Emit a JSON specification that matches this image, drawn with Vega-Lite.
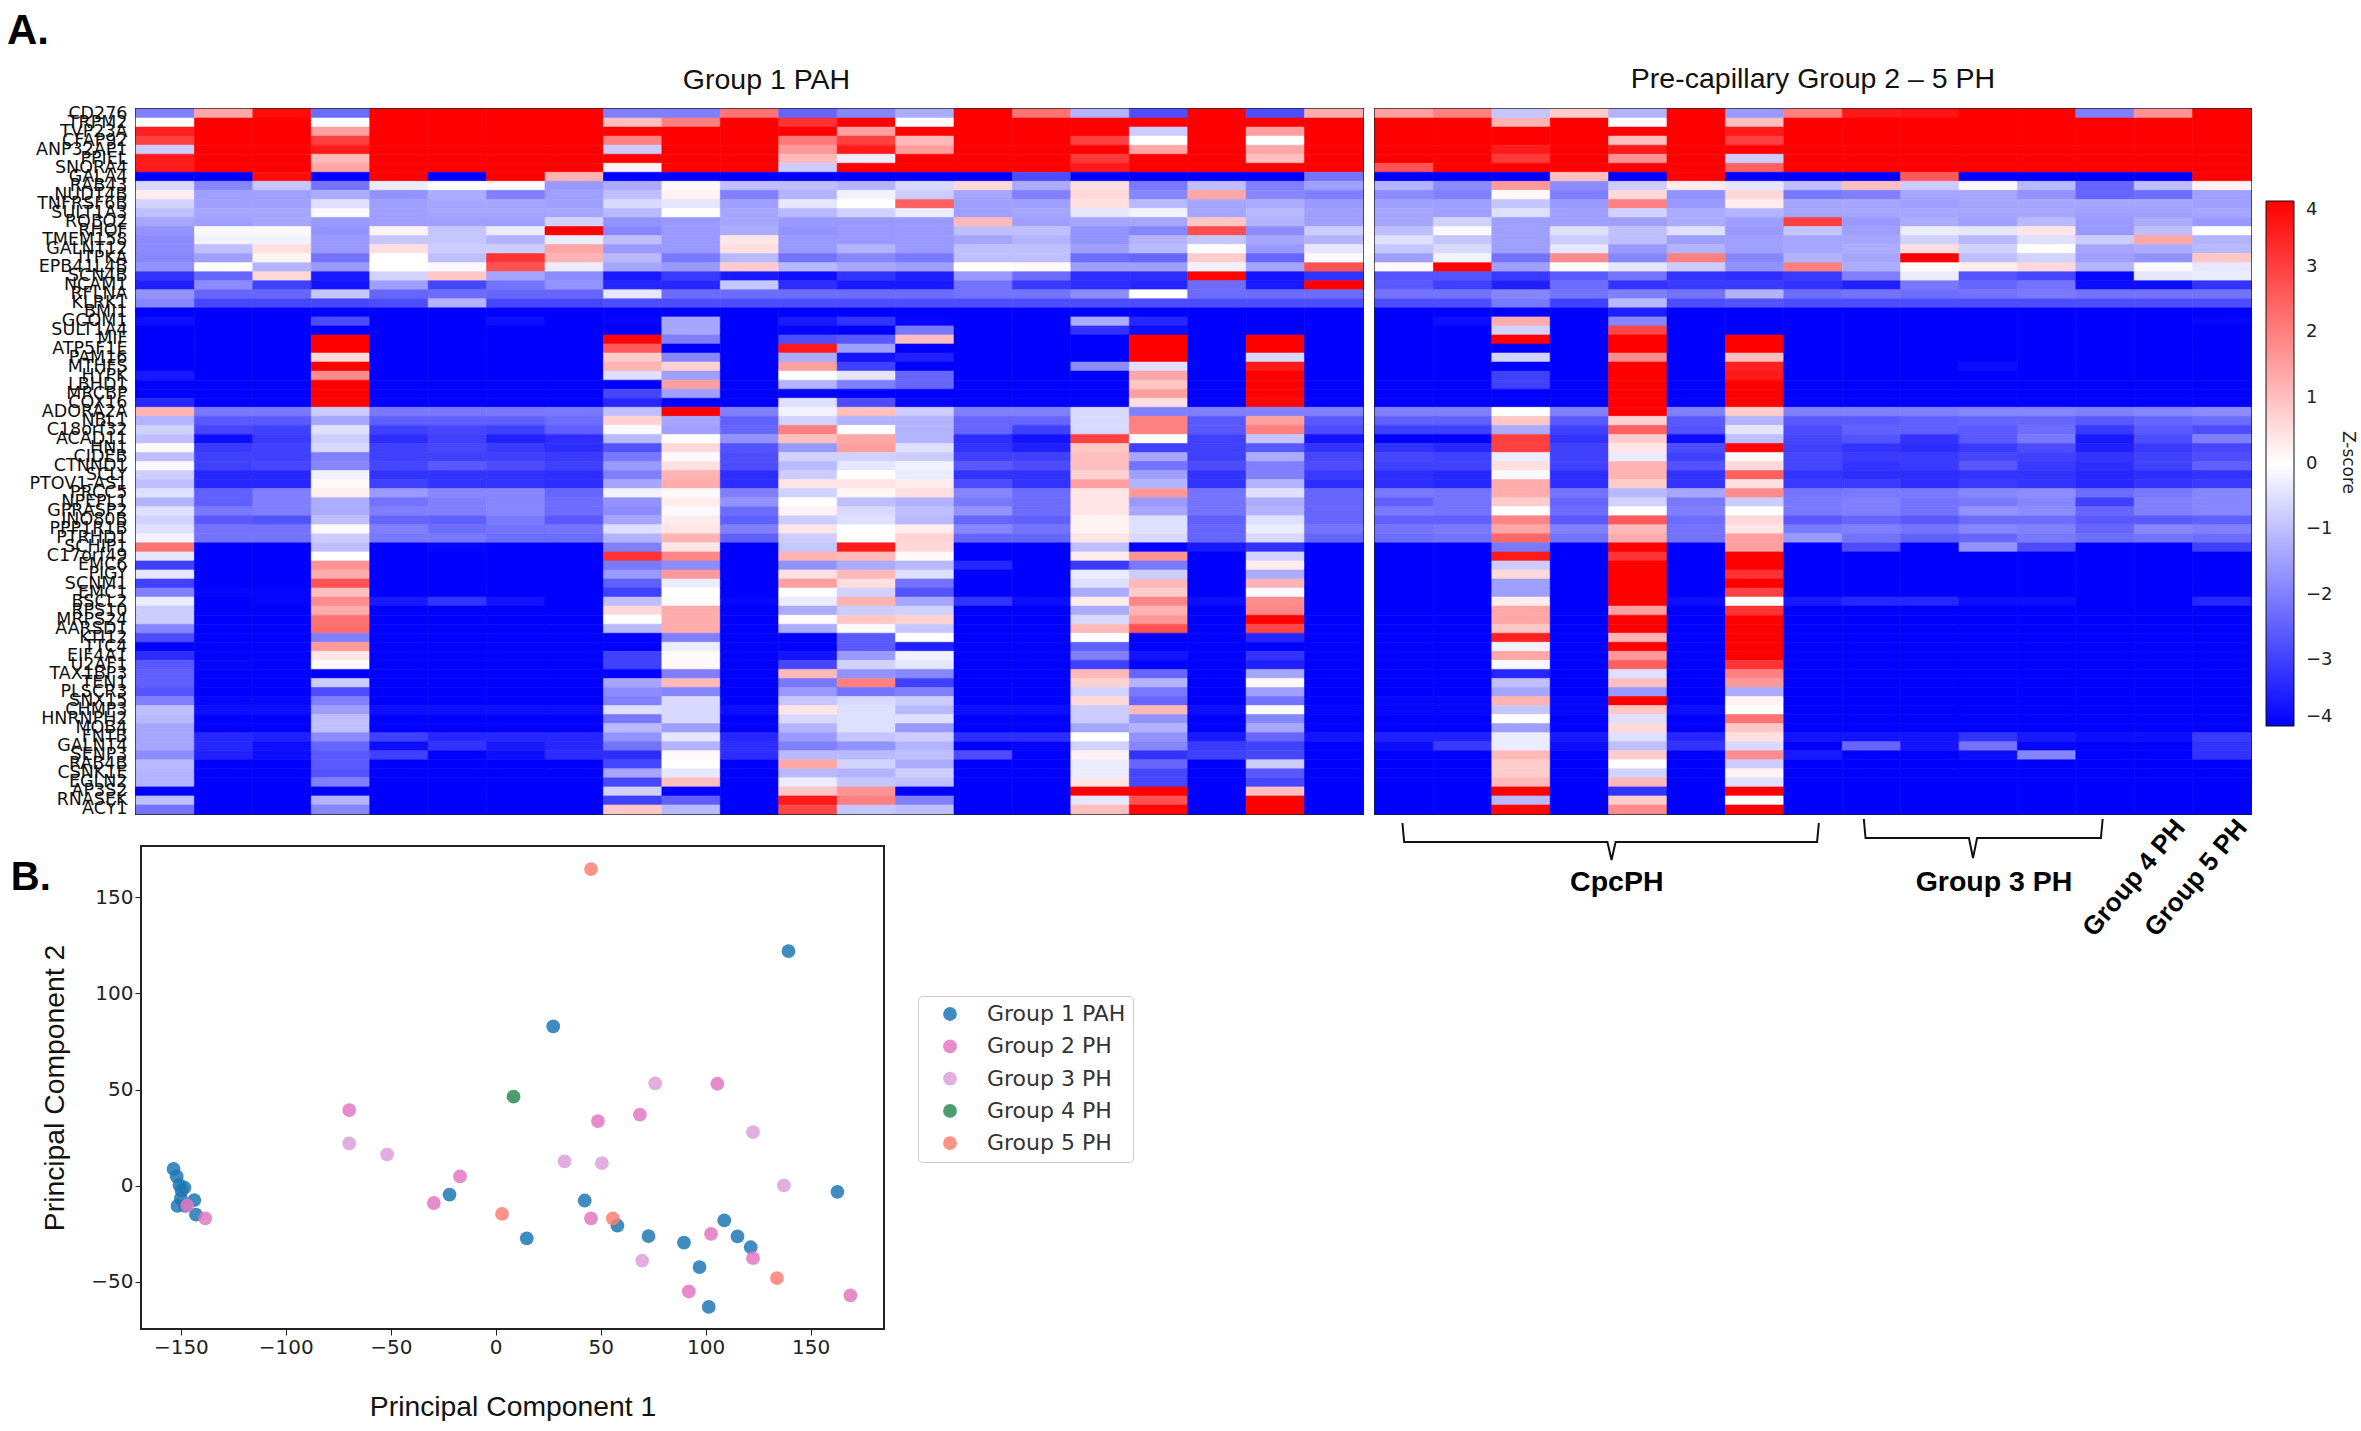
{"$schema":"https://vega.github.io/schema/vega-lite/v6.json","background":"white","padding":{"left":7,"top":9,"right":0,"bottom":0},"title":{"text":"A.","anchor":"start","frame":"group","font":"Liberation Sans","fontSize":42,"fontWeight":"bold","color":"black","offset":11.5,"dx":-129},"config":{"view":{"stroke":"#222","strokeWidth":2}},"datasets":{"left":[
{"r":1,"c":1,"z":-2},{"r":2,"c":1,"z":0},{"r":3,"c":1,"z":3.5},{"r":4,"c":1,"z":3},{"r":5,"c":1,"z":-0.8},{"r":6,"c":1,"z":3.6},{"r":7,"c":1,"z":3.6},{"r":8,"c":1,"z":-4},{"r":9,"c":1,"z":-0.6},{"r":10,"c":1,"z":0.3},{"r":11,"c":1,"z":-0.7},{"r":12,"c":1,"z":-1},{"r":13,"c":1,"z":-1.4},{"r":14,"c":1,"z":-1.7},{"r":15,"c":1,"z":-1.8},{"r":16,"c":1,"z":-1.8},{"r":17,"c":1,"z":-1.9},{"r":18,"c":1,"z":-1.7},{"r":19,"c":1,"z":-3.2},{"r":20,"c":1,"z":-3.5},{"r":21,"c":1,"z":-1.7},{"r":22,"c":1,"z":-1.9},{"r":23,"c":1,"z":-4},{"r":24,"c":1,"z":-3.8},{"r":25,"c":1,"z":-4},{"r":26,"c":1,"z":-4},{"r":27,"c":1,"z":-4},{"r":28,"c":1,"z":-4},{"r":29,"c":1,"z":-4},{"r":30,"c":1,"z":-3.6},{"r":31,"c":1,"z":-4},{"r":32,"c":1,"z":-4},{"r":33,"c":1,"z":-3.4},{"r":34,"c":1,"z":1.2},{"r":35,"c":1,"z":-1.2},{"r":36,"c":1,"z":-0.7},{"r":37,"c":1,"z":-1},{"r":38,"c":1,"z":0.1},{"r":39,"c":1,"z":-1},{"r":40,"c":1,"z":-0.1},{"r":41,"c":1,"z":-0.8},{"r":42,"c":1,"z":-1},{"r":43,"c":1,"z":-0.5},{"r":44,"c":1,"z":-1.2},{"r":45,"c":1,"z":-0.5},{"r":46,"c":1,"z":-0.7},{"r":47,"c":1,"z":-0.5},{"r":48,"c":1,"z":-0.2},{"r":49,"c":1,"z":2.2},{"r":50,"c":1,"z":-0.4},{"r":51,"c":1,"z":-3},{"r":52,"c":1,"z":-0.4},{"r":53,"c":1,"z":-3},{"r":54,"c":1,"z":-2},{"r":55,"c":1,"z":-0.3},{"r":56,"c":1,"z":-0.8},{"r":57,"c":1,"z":-0.8},{"r":58,"c":1,"z":-1.9},{"r":59,"c":1,"z":-2.8},{"r":60,"c":1,"z":-4},{"r":61,"c":1,"z":-3.3},{"r":62,"c":1,"z":-2.6},{"r":63,"c":1,"z":-2.5},{"r":64,"c":1,"z":-2.5},{"r":65,"c":1,"z":-2.7},{"r":66,"c":1,"z":-2},{"r":67,"c":1,"z":-1},{"r":68,"c":1,"z":-1.1},{"r":69,"c":1,"z":-1.4},{"r":70,"c":1,"z":-1.4},{"r":71,"c":1,"z":-1.4},{"r":72,"c":1,"z":-1.8},{"r":73,"c":1,"z":-1.1},{"r":74,"c":1,"z":-1.2},{"r":75,"c":1,"z":-1.2},{"r":76,"c":1,"z":-4},{"r":77,"c":1,"z":-1},{"r":78,"c":1,"z":-2.2},
{"r":1,"c":2,"z":1.4},{"r":2,"c":2,"z":4},{"r":3,"c":2,"z":4},{"r":4,"c":2,"z":4},{"r":5,"c":2,"z":4},{"r":6,"c":2,"z":4},{"r":7,"c":2,"z":4},{"r":8,"c":2,"z":-4},{"r":9,"c":2,"z":-1.9},{"r":10,"c":2,"z":-1.5},{"r":11,"c":2,"z":-1.5},{"r":12,"c":2,"z":-1.4},{"r":13,"c":2,"z":-1.5},{"r":14,"c":2,"z":-0.1},{"r":15,"c":2,"z":-0.2},{"r":16,"c":2,"z":-1},{"r":17,"c":2,"z":-1.5},{"r":18,"c":2,"z":0},{"r":19,"c":2,"z":-2.4},{"r":20,"c":2,"z":-1.8},{"r":21,"c":2,"z":-2.4},{"r":22,"c":2,"z":-2.9},{"r":23,"c":2,"z":-4},{"r":24,"c":2,"z":-4},{"r":25,"c":2,"z":-4},{"r":26,"c":2,"z":-4},{"r":27,"c":2,"z":-4},{"r":28,"c":2,"z":-4},{"r":29,"c":2,"z":-4},{"r":30,"c":2,"z":-4},{"r":31,"c":2,"z":-4},{"r":32,"c":2,"z":-4},{"r":33,"c":2,"z":-4},{"r":34,"c":2,"z":-2.1},{"r":35,"c":2,"z":-2.6},{"r":36,"c":2,"z":-2.9},{"r":37,"c":2,"z":-3.8},{"r":38,"c":2,"z":-3.1},{"r":39,"c":2,"z":-3},{"r":40,"c":2,"z":-3},{"r":41,"c":2,"z":-3.4},{"r":42,"c":2,"z":-3.4},{"r":43,"c":2,"z":-2.5},{"r":44,"c":2,"z":-2.5},{"r":45,"c":2,"z":-2.1},{"r":46,"c":2,"z":-2.6},{"r":47,"c":2,"z":-2.2},{"r":48,"c":2,"z":-2.2},{"r":49,"c":2,"z":-4},{"r":50,"c":2,"z":-4},{"r":51,"c":2,"z":-4},{"r":52,"c":2,"z":-4},{"r":53,"c":2,"z":-4},{"r":54,"c":2,"z":-3.9},{"r":55,"c":2,"z":-4},{"r":56,"c":2,"z":-4},{"r":57,"c":2,"z":-4},{"r":58,"c":2,"z":-4},{"r":59,"c":2,"z":-4},{"r":60,"c":2,"z":-4},{"r":61,"c":2,"z":-4},{"r":62,"c":2,"z":-3.9},{"r":63,"c":2,"z":-4},{"r":64,"c":2,"z":-4},{"r":65,"c":2,"z":-4},{"r":66,"c":2,"z":-3.9},{"r":67,"c":2,"z":-3.8},{"r":68,"c":2,"z":-4},{"r":69,"c":2,"z":-4},{"r":70,"c":2,"z":-3.4},{"r":71,"c":2,"z":-3.4},{"r":72,"c":2,"z":-3.5},{"r":73,"c":2,"z":-4},{"r":74,"c":2,"z":-4},{"r":75,"c":2,"z":-4},{"r":76,"c":2,"z":-4},{"r":77,"c":2,"z":-4},{"r":78,"c":2,"z":-4},
{"r":1,"c":3,"z":3.8},{"r":2,"c":3,"z":4},{"r":3,"c":3,"z":4},{"r":4,"c":3,"z":4},{"r":5,"c":3,"z":4},{"r":6,"c":3,"z":4},{"r":7,"c":3,"z":4},{"r":8,"c":3,"z":3.8},{"r":9,"c":3,"z":-0.9},{"r":10,"c":3,"z":-1.5},{"r":11,"c":3,"z":-1.5},{"r":12,"c":3,"z":-1.4},{"r":13,"c":3,"z":-1.4},{"r":14,"c":3,"z":-0.1},{"r":15,"c":3,"z":-0.2},{"r":16,"c":3,"z":0.5},{"r":17,"c":3,"z":0.15},{"r":18,"c":3,"z":-1.2},{"r":19,"c":3,"z":0.6},{"r":20,"c":3,"z":-3},{"r":21,"c":3,"z":-2.4},{"r":22,"c":3,"z":-2.9},{"r":23,"c":3,"z":-4},{"r":24,"c":3,"z":-4},{"r":25,"c":3,"z":-4},{"r":26,"c":3,"z":-4},{"r":27,"c":3,"z":-4},{"r":28,"c":3,"z":-4},{"r":29,"c":3,"z":-4},{"r":30,"c":3,"z":-4},{"r":31,"c":3,"z":-4},{"r":32,"c":3,"z":-4},{"r":33,"c":3,"z":-4},{"r":34,"c":3,"z":-2.1},{"r":35,"c":3,"z":-2.6},{"r":36,"c":3,"z":-3},{"r":37,"c":3,"z":-3.1},{"r":38,"c":3,"z":-3},{"r":39,"c":3,"z":-3},{"r":40,"c":3,"z":-2.9},{"r":41,"c":3,"z":-3.4},{"r":42,"c":3,"z":-3.4},{"r":43,"c":3,"z":-2},{"r":44,"c":3,"z":-2},{"r":45,"c":3,"z":-2},{"r":46,"c":3,"z":-2.7},{"r":47,"c":3,"z":-2.2},{"r":48,"c":3,"z":-2.2},{"r":49,"c":3,"z":-4},{"r":50,"c":3,"z":-4},{"r":51,"c":3,"z":-4},{"r":52,"c":3,"z":-4},{"r":53,"c":3,"z":-4},{"r":54,"c":3,"z":-3.9},{"r":55,"c":3,"z":-3.9},{"r":56,"c":3,"z":-4},{"r":57,"c":3,"z":-4},{"r":58,"c":3,"z":-4},{"r":59,"c":3,"z":-4},{"r":60,"c":3,"z":-4},{"r":61,"c":3,"z":-4},{"r":62,"c":3,"z":-4},{"r":63,"c":3,"z":-4},{"r":64,"c":3,"z":-4},{"r":65,"c":3,"z":-4},{"r":66,"c":3,"z":-3.9},{"r":67,"c":3,"z":-3.8},{"r":68,"c":3,"z":-4},{"r":69,"c":3,"z":-4},{"r":70,"c":3,"z":-3.5},{"r":71,"c":3,"z":-3.8},{"r":72,"c":3,"z":-3.8},{"r":73,"c":3,"z":-4},{"r":74,"c":3,"z":-4},{"r":75,"c":3,"z":-4},{"r":76,"c":3,"z":-4},{"r":77,"c":3,"z":-4},{"r":78,"c":3,"z":-4},
{"r":1,"c":4,"z":-2.3},{"r":2,"c":4,"z":0},{"r":3,"c":4,"z":1.5},{"r":4,"c":4,"z":3},{"r":5,"c":4,"z":3.6},{"r":6,"c":4,"z":1.1},{"r":7,"c":4,"z":1.4},{"r":8,"c":4,"z":-4},{"r":9,"c":4,"z":-2.2},{"r":10,"c":4,"z":-1.3},{"r":11,"c":4,"z":-0.5},{"r":12,"c":4,"z":-0.1},{"r":13,"c":4,"z":-1.6},{"r":14,"c":4,"z":-1.7},{"r":15,"c":4,"z":-1.6},{"r":16,"c":4,"z":-1.6},{"r":17,"c":4,"z":-2.2},{"r":18,"c":4,"z":-1.6},{"r":19,"c":4,"z":-3.6},{"r":20,"c":4,"z":-3.7},{"r":21,"c":4,"z":-0.9},{"r":22,"c":4,"z":-2.9},{"r":23,"c":4,"z":-4},{"r":24,"c":4,"z":-2.8},{"r":25,"c":4,"z":-4},{"r":26,"c":4,"z":4},{"r":27,"c":4,"z":4},{"r":28,"c":4,"z":0.6},{"r":29,"c":4,"z":4},{"r":30,"c":4,"z":1.8},{"r":31,"c":4,"z":4},{"r":32,"c":4,"z":4},{"r":33,"c":4,"z":4},{"r":34,"c":4,"z":-0.8},{"r":35,"c":4,"z":-1.4},{"r":36,"c":4,"z":-0.5},{"r":37,"c":4,"z":-0.8},{"r":38,"c":4,"z":-0.6},{"r":39,"c":4,"z":-2},{"r":40,"c":4,"z":-1.9},{"r":41,"c":4,"z":-0.2},{"r":42,"c":4,"z":0.1},{"r":43,"c":4,"z":0.25},{"r":44,"c":4,"z":-1.3},{"r":45,"c":4,"z":-1.3},{"r":46,"c":4,"z":-1},{"r":47,"c":4,"z":0.1},{"r":48,"c":4,"z":-0.8},{"r":49,"c":4,"z":-1},{"r":50,"c":4,"z":0},{"r":51,"c":4,"z":1.7},{"r":52,"c":4,"z":1.3},{"r":53,"c":4,"z":2.7},{"r":54,"c":4,"z":1},{"r":55,"c":4,"z":1.8},{"r":56,"c":4,"z":1.3},{"r":57,"c":4,"z":2.2},{"r":58,"c":4,"z":2.3},{"r":59,"c":4,"z":-2},{"r":60,"c":4,"z":1.6},{"r":61,"c":4,"z":0.4},{"r":62,"c":4,"z":0.1},{"r":63,"c":4,"z":-4},{"r":64,"c":4,"z":-0.8},{"r":65,"c":4,"z":-2.8},{"r":66,"c":4,"z":-2},{"r":67,"c":4,"z":-1.5},{"r":68,"c":4,"z":-1},{"r":69,"c":4,"z":-1},{"r":70,"c":4,"z":-1.8},{"r":71,"c":4,"z":-2.4},{"r":72,"c":4,"z":-2.6},{"r":73,"c":4,"z":-2.6},{"r":74,"c":4,"z":-2.7},{"r":75,"c":4,"z":-2},{"r":76,"c":4,"z":-4},{"r":77,"c":4,"z":-1.2},{"r":78,"c":4,"z":-1.9},
{"r":1,"c":5,"z":4},{"r":2,"c":5,"z":4},{"r":3,"c":5,"z":4},{"r":4,"c":5,"z":4},{"r":5,"c":5,"z":4},{"r":6,"c":5,"z":4},{"r":7,"c":5,"z":4},{"r":8,"c":5,"z":4},{"r":9,"c":5,"z":-0.3},{"r":10,"c":5,"z":-1.7},{"r":11,"c":5,"z":-1.5},{"r":12,"c":5,"z":-1.5},{"r":13,"c":5,"z":-1.5},{"r":14,"c":5,"z":0.2},{"r":15,"c":5,"z":-0.9},{"r":16,"c":5,"z":0.5},{"r":17,"c":5,"z":0},{"r":18,"c":5,"z":0},{"r":19,"c":5,"z":-0.7},{"r":20,"c":5,"z":-1.5},{"r":21,"c":5,"z":-2.4},{"r":22,"c":5,"z":-2.8},{"r":23,"c":5,"z":-4},{"r":24,"c":5,"z":-4},{"r":25,"c":5,"z":-4},{"r":26,"c":5,"z":-4},{"r":27,"c":5,"z":-4},{"r":28,"c":5,"z":-4},{"r":29,"c":5,"z":-4},{"r":30,"c":5,"z":-4},{"r":31,"c":5,"z":-4},{"r":32,"c":5,"z":-4},{"r":33,"c":5,"z":-4},{"r":34,"c":5,"z":-2.1},{"r":35,"c":5,"z":-2.5},{"r":36,"c":5,"z":-3},{"r":37,"c":5,"z":-3.3},{"r":38,"c":5,"z":-3},{"r":39,"c":5,"z":-3},{"r":40,"c":5,"z":-2.9},{"r":41,"c":5,"z":-3.2},{"r":42,"c":5,"z":-3},{"r":43,"c":5,"z":-1.6},{"r":44,"c":5,"z":-2.2},{"r":45,"c":5,"z":-2},{"r":46,"c":5,"z":-2.4},{"r":47,"c":5,"z":-2},{"r":48,"c":5,"z":-2.1},{"r":49,"c":5,"z":-4},{"r":50,"c":5,"z":-4},{"r":51,"c":5,"z":-4},{"r":52,"c":5,"z":-4},{"r":53,"c":5,"z":-4},{"r":54,"c":5,"z":-4},{"r":55,"c":5,"z":-3.6},{"r":56,"c":5,"z":-4},{"r":57,"c":5,"z":-4},{"r":58,"c":5,"z":-4},{"r":59,"c":5,"z":-4},{"r":60,"c":5,"z":-4},{"r":61,"c":5,"z":-4},{"r":62,"c":5,"z":-4},{"r":63,"c":5,"z":-4},{"r":64,"c":5,"z":-4},{"r":65,"c":5,"z":-4},{"r":66,"c":5,"z":-4},{"r":67,"c":5,"z":-3.8},{"r":68,"c":5,"z":-4},{"r":69,"c":5,"z":-4},{"r":70,"c":5,"z":-3},{"r":71,"c":5,"z":-3.8},{"r":72,"c":5,"z":-3},{"r":73,"c":5,"z":-4},{"r":74,"c":5,"z":-4},{"r":75,"c":5,"z":-4},{"r":76,"c":5,"z":-4},{"r":77,"c":5,"z":-4},{"r":78,"c":5,"z":-4},
{"r":1,"c":6,"z":4},{"r":2,"c":6,"z":4},{"r":3,"c":6,"z":4},{"r":4,"c":6,"z":4},{"r":5,"c":6,"z":4},{"r":6,"c":6,"z":4},{"r":7,"c":6,"z":4},{"r":8,"c":6,"z":-4},{"r":9,"c":6,"z":0},{"r":10,"c":6,"z":-1.3},{"r":11,"c":6,"z":-1.4},{"r":12,"c":6,"z":-1.4},{"r":13,"c":6,"z":-1.5},{"r":14,"c":6,"z":-0.9},{"r":15,"c":6,"z":-0.9},{"r":16,"c":6,"z":-0.8},{"r":17,"c":6,"z":-1},{"r":18,"c":6,"z":-0.1},{"r":19,"c":6,"z":0.9},{"r":20,"c":6,"z":-2.9},{"r":21,"c":6,"z":-2.3},{"r":22,"c":6,"z":-1.2},{"r":23,"c":6,"z":-4},{"r":24,"c":6,"z":-4},{"r":25,"c":6,"z":-4},{"r":26,"c":6,"z":-4},{"r":27,"c":6,"z":-4},{"r":28,"c":6,"z":-4},{"r":29,"c":6,"z":-4},{"r":30,"c":6,"z":-4},{"r":31,"c":6,"z":-4},{"r":32,"c":6,"z":-4},{"r":33,"c":6,"z":-4},{"r":34,"c":6,"z":-2.1},{"r":35,"c":6,"z":-2.5},{"r":36,"c":6,"z":-2.9},{"r":37,"c":6,"z":-3},{"r":38,"c":6,"z":-2.9},{"r":39,"c":6,"z":-3},{"r":40,"c":6,"z":-2.6},{"r":41,"c":6,"z":-3.2},{"r":42,"c":6,"z":-3.2},{"r":43,"c":6,"z":-1.9},{"r":44,"c":6,"z":-2},{"r":45,"c":6,"z":-2},{"r":46,"c":6,"z":-2.5},{"r":47,"c":6,"z":-2.3},{"r":48,"c":6,"z":-2.1},{"r":49,"c":6,"z":-3.9},{"r":50,"c":6,"z":-4},{"r":51,"c":6,"z":-4},{"r":52,"c":6,"z":-4},{"r":53,"c":6,"z":-4},{"r":54,"c":6,"z":-4},{"r":55,"c":6,"z":-3.2},{"r":56,"c":6,"z":-4},{"r":57,"c":6,"z":-4},{"r":58,"c":6,"z":-4},{"r":59,"c":6,"z":-4},{"r":60,"c":6,"z":-4},{"r":61,"c":6,"z":-4},{"r":62,"c":6,"z":-4},{"r":63,"c":6,"z":-4},{"r":64,"c":6,"z":-4},{"r":65,"c":6,"z":-4},{"r":66,"c":6,"z":-4},{"r":67,"c":6,"z":-3.8},{"r":68,"c":6,"z":-4},{"r":69,"c":6,"z":-4},{"r":70,"c":6,"z":-3.4},{"r":71,"c":6,"z":-3.2},{"r":72,"c":6,"z":-4},{"r":73,"c":6,"z":-4},{"r":74,"c":6,"z":-4},{"r":75,"c":6,"z":-4},{"r":76,"c":6,"z":-4},{"r":77,"c":6,"z":-4},{"r":78,"c":6,"z":-4},
{"r":1,"c":7,"z":4},{"r":2,"c":7,"z":4},{"r":3,"c":7,"z":4},{"r":4,"c":7,"z":4},{"r":5,"c":7,"z":4},{"r":6,"c":7,"z":4},{"r":7,"c":7,"z":4},{"r":8,"c":7,"z":4},{"r":9,"c":7,"z":-0.1},{"r":10,"c":7,"z":-2},{"r":11,"c":7,"z":-1.4},{"r":12,"c":7,"z":-1.4},{"r":13,"c":7,"z":-1.5},{"r":14,"c":7,"z":-0.3},{"r":15,"c":7,"z":-1.2},{"r":16,"c":7,"z":-0.8},{"r":17,"c":7,"z":3.2},{"r":18,"c":7,"z":2.7},{"r":19,"c":7,"z":-1.4},{"r":20,"c":7,"z":-2.2},{"r":21,"c":7,"z":-2.4},{"r":22,"c":7,"z":-2.9},{"r":23,"c":7,"z":-4},{"r":24,"c":7,"z":-3.8},{"r":25,"c":7,"z":-4},{"r":26,"c":7,"z":-4},{"r":27,"c":7,"z":-4},{"r":28,"c":7,"z":-4},{"r":29,"c":7,"z":-4},{"r":30,"c":7,"z":-4},{"r":31,"c":7,"z":-4},{"r":32,"c":7,"z":-4},{"r":33,"c":7,"z":-4},{"r":34,"c":7,"z":-2.1},{"r":35,"c":7,"z":-2.5},{"r":36,"c":7,"z":-3},{"r":37,"c":7,"z":-3.5},{"r":38,"c":7,"z":-3.1},{"r":39,"c":7,"z":-3},{"r":40,"c":7,"z":-2.8},{"r":41,"c":7,"z":-3.2},{"r":42,"c":7,"z":-3.2},{"r":43,"c":7,"z":-1.9},{"r":44,"c":7,"z":-1.9},{"r":45,"c":7,"z":-1.9},{"r":46,"c":7,"z":-2.1},{"r":47,"c":7,"z":-2.2},{"r":48,"c":7,"z":-2.3},{"r":49,"c":7,"z":-4},{"r":50,"c":7,"z":-4},{"r":51,"c":7,"z":-4},{"r":52,"c":7,"z":-4},{"r":53,"c":7,"z":-4},{"r":54,"c":7,"z":-4},{"r":55,"c":7,"z":-3.7},{"r":56,"c":7,"z":-4},{"r":57,"c":7,"z":-4},{"r":58,"c":7,"z":-4},{"r":59,"c":7,"z":-4},{"r":60,"c":7,"z":-4},{"r":61,"c":7,"z":-4},{"r":62,"c":7,"z":-4},{"r":63,"c":7,"z":-4},{"r":64,"c":7,"z":-4},{"r":65,"c":7,"z":-4},{"r":66,"c":7,"z":-4},{"r":67,"c":7,"z":-3.8},{"r":68,"c":7,"z":-4},{"r":69,"c":7,"z":-4},{"r":70,"c":7,"z":-3.4},{"r":71,"c":7,"z":-3.6},{"r":72,"c":7,"z":-3.8},{"r":73,"c":7,"z":-4},{"r":74,"c":7,"z":-4},{"r":75,"c":7,"z":-4},{"r":76,"c":7,"z":-4},{"r":77,"c":7,"z":-4},{"r":78,"c":7,"z":-4},
{"r":1,"c":8,"z":4},{"r":2,"c":8,"z":4},{"r":3,"c":8,"z":4},{"r":4,"c":8,"z":4},{"r":5,"c":8,"z":4},{"r":6,"c":8,"z":4},{"r":7,"c":8,"z":4},{"r":8,"c":8,"z":1.2},{"r":9,"c":8,"z":-1.6},{"r":10,"c":8,"z":-1.5},{"r":11,"c":8,"z":-1.5},{"r":12,"c":8,"z":-1.4},{"r":13,"c":8,"z":-0.7},{"r":14,"c":8,"z":4},{"r":15,"c":8,"z":-0.3},{"r":16,"c":8,"z":1.4},{"r":17,"c":8,"z":1.2},{"r":18,"c":8,"z":-0.3},{"r":19,"c":8,"z":-1.8},{"r":20,"c":8,"z":-1.7},{"r":21,"c":8,"z":-2.4},{"r":22,"c":8,"z":-2.9},{"r":23,"c":8,"z":-4},{"r":24,"c":8,"z":-4},{"r":25,"c":8,"z":-4},{"r":26,"c":8,"z":-4},{"r":27,"c":8,"z":-4},{"r":28,"c":8,"z":-4},{"r":29,"c":8,"z":-4},{"r":30,"c":8,"z":-4},{"r":31,"c":8,"z":-4},{"r":32,"c":8,"z":-4},{"r":33,"c":8,"z":-4},{"r":34,"c":8,"z":-2.1},{"r":35,"c":8,"z":-2.3},{"r":36,"c":8,"z":-2.5},{"r":37,"c":8,"z":-3.3},{"r":38,"c":8,"z":-3.3},{"r":39,"c":8,"z":-3.1},{"r":40,"c":8,"z":-3},{"r":41,"c":8,"z":-3.3},{"r":42,"c":8,"z":-3.3},{"r":43,"c":8,"z":-2.4},{"r":44,"c":8,"z":-2.3},{"r":45,"c":8,"z":-2.3},{"r":46,"c":8,"z":-2.6},{"r":47,"c":8,"z":-2.2},{"r":48,"c":8,"z":-2.3},{"r":49,"c":8,"z":-4},{"r":50,"c":8,"z":-4},{"r":51,"c":8,"z":-4},{"r":52,"c":8,"z":-4},{"r":53,"c":8,"z":-4},{"r":54,"c":8,"z":-4},{"r":55,"c":8,"z":-4},{"r":56,"c":8,"z":-4},{"r":57,"c":8,"z":-4},{"r":58,"c":8,"z":-4},{"r":59,"c":8,"z":-4},{"r":60,"c":8,"z":-4},{"r":61,"c":8,"z":-4},{"r":62,"c":8,"z":-4},{"r":63,"c":8,"z":-4},{"r":64,"c":8,"z":-4},{"r":65,"c":8,"z":-4},{"r":66,"c":8,"z":-4},{"r":67,"c":8,"z":-3.8},{"r":68,"c":8,"z":-4},{"r":69,"c":8,"z":-4},{"r":70,"c":8,"z":-3.4},{"r":71,"c":8,"z":-3.4},{"r":72,"c":8,"z":-3.3},{"r":73,"c":8,"z":-4},{"r":74,"c":8,"z":-4},{"r":75,"c":8,"z":-4},{"r":76,"c":8,"z":-4},{"r":77,"c":8,"z":-4},{"r":78,"c":8,"z":-4},
{"r":1,"c":9,"z":-2},{"r":2,"c":9,"z":1},{"r":3,"c":9,"z":4},{"r":4,"c":9,"z":2},{"r":5,"c":9,"z":-0.8},{"r":6,"c":9,"z":4},{"r":7,"c":9,"z":0.2},{"r":8,"c":9,"z":-4},{"r":9,"c":9,"z":-1.3},{"r":10,"c":9,"z":-1},{"r":11,"c":9,"z":-0.6},{"r":12,"c":9,"z":-1.1},{"r":13,"c":9,"z":-1.7},{"r":14,"c":9,"z":-1.9},{"r":15,"c":9,"z":-1},{"r":16,"c":9,"z":-1.6},{"r":17,"c":9,"z":-1.1},{"r":18,"c":9,"z":-1.4},{"r":19,"c":9,"z":-3.6},{"r":20,"c":9,"z":-3.4},{"r":21,"c":9,"z":-0.4},{"r":22,"c":9,"z":-2.8},{"r":23,"c":9,"z":-4},{"r":24,"c":9,"z":-3.9},{"r":25,"c":9,"z":-4},{"r":26,"c":9,"z":3.9},{"r":27,"c":9,"z":2.6},{"r":28,"c":9,"z":0.8},{"r":29,"c":9,"z":1.2},{"r":30,"c":9,"z":-0.5},{"r":31,"c":9,"z":-4},{"r":32,"c":9,"z":-2.9},{"r":33,"c":9,"z":-3.4},{"r":34,"c":9,"z":-1},{"r":35,"c":9,"z":0.7},{"r":36,"c":9,"z":-0.1},{"r":37,"c":9,"z":-1.1},{"r":38,"c":9,"z":-2.7},{"r":39,"c":9,"z":-2.1},{"r":40,"c":9,"z":-1.6},{"r":41,"c":9,"z":-2},{"r":42,"c":9,"z":-1.4},{"r":43,"c":9,"z":-0.2},{"r":44,"c":9,"z":-1.7},{"r":45,"c":9,"z":-1.8},{"r":46,"c":9,"z":-1.4},{"r":47,"c":9,"z":-0.5},{"r":48,"c":9,"z":-1.2},{"r":49,"c":9,"z":-2},{"r":50,"c":9,"z":3.2},{"r":51,"c":9,"z":-2.1},{"r":52,"c":9,"z":-1.6},{"r":53,"c":9,"z":-2.5},{"r":54,"c":9,"z":-3},{"r":55,"c":9,"z":-1},{"r":56,"c":9,"z":0.6},{"r":57,"c":9,"z":0},{"r":58,"c":9,"z":-1.1},{"r":59,"c":9,"z":-4},{"r":60,"c":9,"z":-4},{"r":61,"c":9,"z":-3},{"r":62,"c":9,"z":-3},{"r":63,"c":9,"z":-4},{"r":64,"c":9,"z":-1.4},{"r":65,"c":9,"z":-1.8},{"r":66,"c":9,"z":-2},{"r":67,"c":9,"z":-0.5},{"r":68,"c":9,"z":-2.1},{"r":69,"c":9,"z":-1.1},{"r":70,"c":9,"z":-1.7},{"r":71,"c":9,"z":-2.2},{"r":72,"c":9,"z":-3.3},{"r":73,"c":9,"z":-2.9},{"r":74,"c":9,"z":-1.4},{"r":75,"c":9,"z":-2.9},{"r":76,"c":9,"z":-0.7},{"r":77,"c":9,"z":-3},{"r":78,"c":9,"z":0.9},
{"r":1,"c":10,"z":-2},{"r":2,"c":10,"z":2},{"r":3,"c":10,"z":4},{"r":4,"c":10,"z":4},{"r":5,"c":10,"z":4},{"r":6,"c":10,"z":4},{"r":7,"c":10,"z":4},{"r":8,"c":10,"z":-4},{"r":9,"c":10,"z":0.1},{"r":10,"c":10,"z":0.2},{"r":11,"c":10,"z":-0.4},{"r":12,"c":10,"z":0},{"r":13,"c":10,"z":-1.6},{"r":14,"c":10,"z":-1.6},{"r":15,"c":10,"z":-1.6},{"r":16,"c":10,"z":-1.6},{"r":17,"c":10,"z":-2.1},{"r":18,"c":10,"z":-1.6},{"r":19,"c":10,"z":-3.1},{"r":20,"c":10,"z":-3.4},{"r":21,"c":10,"z":-2.3},{"r":22,"c":10,"z":-2.8},{"r":23,"c":10,"z":-4},{"r":24,"c":10,"z":-1.4},{"r":25,"c":10,"z":-1.4},{"r":26,"c":10,"z":-2},{"r":27,"c":10,"z":-4},{"r":28,"c":10,"z":-1.9},{"r":29,"c":10,"z":0.7},{"r":30,"c":10,"z":-1.5},{"r":31,"c":10,"z":1.5},{"r":32,"c":10,"z":-1.5},{"r":33,"c":10,"z":-4},{"r":34,"c":10,"z":4},{"r":35,"c":10,"z":-1.4},{"r":36,"c":10,"z":-1.5},{"r":37,"c":10,"z":0.05},{"r":38,"c":10,"z":0.6},{"r":39,"c":10,"z":-0.1},{"r":40,"c":10,"z":0.5},{"r":41,"c":10,"z":1.2},{"r":42,"c":10,"z":1.3},{"r":43,"c":10,"z":0.1},{"r":44,"c":10,"z":0.3},{"r":45,"c":10,"z":-0.1},{"r":46,"c":10,"z":0.3},{"r":47,"c":10,"z":0.4},{"r":48,"c":10,"z":1.2},{"r":49,"c":10,"z":0.4},{"r":50,"c":10,"z":1.9},{"r":51,"c":10,"z":-1.8},{"r":52,"c":10,"z":1.6},{"r":53,"c":10,"z":-0.3},{"r":54,"c":10,"z":0},{"r":55,"c":10,"z":0.1},{"r":56,"c":10,"z":1.3},{"r":57,"c":10,"z":1.3},{"r":58,"c":10,"z":1.3},{"r":59,"c":10,"z":-2},{"r":60,"c":10,"z":-0.3},{"r":61,"c":10,"z":0.1},{"r":62,"c":10,"z":0.1},{"r":63,"c":10,"z":-2},{"r":64,"c":10,"z":1.1},{"r":65,"c":10,"z":-1.9},{"r":66,"c":10,"z":-0.6},{"r":67,"c":10,"z":-0.6},{"r":68,"c":10,"z":-0.6},{"r":69,"c":10,"z":-1.5},{"r":70,"c":10,"z":-0.4},{"r":71,"c":10,"z":-1.2},{"r":72,"c":10,"z":0.1},{"r":73,"c":10,"z":0},{"r":74,"c":10,"z":-0.4},{"r":75,"c":10,"z":1},{"r":76,"c":10,"z":-4},{"r":77,"c":10,"z":-2.5},{"r":78,"c":10,"z":-1.1},
{"r":1,"c":11,"z":2.2},{"r":2,"c":11,"z":4},{"r":3,"c":11,"z":4},{"r":4,"c":11,"z":4},{"r":5,"c":11,"z":4},{"r":6,"c":11,"z":4},{"r":7,"c":11,"z":4},{"r":8,"c":11,"z":-4},{"r":9,"c":11,"z":-1},{"r":10,"c":11,"z":-2},{"r":11,"c":11,"z":-1.5},{"r":12,"c":11,"z":-1.4},{"r":13,"c":11,"z":-1.4},{"r":14,"c":11,"z":-1.3},{"r":15,"c":11,"z":0.4},{"r":16,"c":11,"z":0.5},{"r":17,"c":11,"z":-1.1},{"r":18,"c":11,"z":0.8},{"r":19,"c":11,"z":-3.6},{"r":20,"c":11,"z":-0.9},{"r":21,"c":11,"z":-2.3},{"r":22,"c":11,"z":-2.8},{"r":23,"c":11,"z":-4},{"r":24,"c":11,"z":-4},{"r":25,"c":11,"z":-4},{"r":26,"c":11,"z":-4},{"r":27,"c":11,"z":-4},{"r":28,"c":11,"z":-4},{"r":29,"c":11,"z":-4},{"r":30,"c":11,"z":-4},{"r":31,"c":11,"z":-4},{"r":32,"c":11,"z":-4},{"r":33,"c":11,"z":-4},{"r":34,"c":11,"z":-2},{"r":35,"c":11,"z":-2.5},{"r":36,"c":11,"z":-2.4},{"r":37,"c":11,"z":-1.7},{"r":38,"c":11,"z":-2.7},{"r":39,"c":11,"z":-2.8},{"r":40,"c":11,"z":-2.8},{"r":41,"c":11,"z":-3.3},{"r":42,"c":11,"z":-3.3},{"r":43,"c":11,"z":-2},{"r":44,"c":11,"z":-1.7},{"r":45,"c":11,"z":-2.3},{"r":46,"c":11,"z":-2.5},{"r":47,"c":11,"z":-2},{"r":48,"c":11,"z":-2.5},{"r":49,"c":11,"z":-4},{"r":50,"c":11,"z":-4},{"r":51,"c":11,"z":-4},{"r":52,"c":11,"z":-4},{"r":53,"c":11,"z":-4},{"r":54,"c":11,"z":-4},{"r":55,"c":11,"z":-3.9},{"r":56,"c":11,"z":-4},{"r":57,"c":11,"z":-4},{"r":58,"c":11,"z":-4},{"r":59,"c":11,"z":-4},{"r":60,"c":11,"z":-4},{"r":61,"c":11,"z":-4},{"r":62,"c":11,"z":-4},{"r":63,"c":11,"z":-4},{"r":64,"c":11,"z":-4},{"r":65,"c":11,"z":-4},{"r":66,"c":11,"z":-4},{"r":67,"c":11,"z":-3.8},{"r":68,"c":11,"z":-4},{"r":69,"c":11,"z":-4},{"r":70,"c":11,"z":-3.4},{"r":71,"c":11,"z":-3.3},{"r":72,"c":11,"z":-3.3},{"r":73,"c":11,"z":-4},{"r":74,"c":11,"z":-4},{"r":75,"c":11,"z":-4},{"r":76,"c":11,"z":-4},{"r":77,"c":11,"z":-4},{"r":78,"c":11,"z":-4},
{"r":1,"c":12,"z":-2.4},{"r":2,"c":12,"z":3.2},{"r":3,"c":12,"z":4},{"r":4,"c":12,"z":2.1},{"r":5,"c":12,"z":1.6},{"r":6,"c":12,"z":1.1},{"r":7,"c":12,"z":-0.8},{"r":8,"c":12,"z":-4},{"r":9,"c":12,"z":-1},{"r":10,"c":12,"z":-1.2},{"r":11,"c":12,"z":-0.4},{"r":12,"c":12,"z":-1.1},{"r":13,"c":12,"z":-1.6},{"r":14,"c":12,"z":-1.7},{"r":15,"c":12,"z":-1.6},{"r":16,"c":12,"z":-1.6},{"r":17,"c":12,"z":-2.2},{"r":18,"c":12,"z":-1.1},{"r":19,"c":12,"z":-3.8},{"r":20,"c":12,"z":-3.3},{"r":21,"c":12,"z":-2.3},{"r":22,"c":12,"z":-2.8},{"r":23,"c":12,"z":-4},{"r":24,"c":12,"z":-3.6},{"r":25,"c":12,"z":-3.9},{"r":26,"c":12,"z":-2.8},{"r":27,"c":12,"z":3.6},{"r":28,"c":12,"z":-1.3},{"r":29,"c":12,"z":1.5},{"r":30,"c":12,"z":0},{"r":31,"c":12,"z":-1.2},{"r":32,"c":12,"z":-3.9},{"r":33,"c":12,"z":-0.5},{"r":34,"c":12,"z":-0.2},{"r":35,"c":12,"z":-0.7},{"r":36,"c":12,"z":2},{"r":37,"c":12,"z":1},{"r":38,"c":12,"z":-1.6},{"r":39,"c":12,"z":-0.7},{"r":40,"c":12,"z":-1.1},{"r":41,"c":12,"z":-0.8},{"r":42,"c":12,"z":0.4},{"r":43,"c":12,"z":-0.7},{"r":44,"c":12,"z":0},{"r":45,"c":12,"z":0.2},{"r":46,"c":12,"z":-0.8},{"r":47,"c":12,"z":0.4},{"r":48,"c":12,"z":-0.8},{"r":49,"c":12,"z":-0.9},{"r":50,"c":12,"z":1.2},{"r":51,"c":12,"z":-1.7},{"r":52,"c":12,"z":0.5},{"r":53,"c":12,"z":1.5},{"r":54,"c":12,"z":0},{"r":55,"c":12,"z":-0.3},{"r":56,"c":12,"z":-1.3},{"r":57,"c":12,"z":0.05},{"r":58,"c":12,"z":-1.3},{"r":59,"c":12,"z":-4},{"r":60,"c":12,"z":-4},{"r":61,"c":12,"z":-3.7},{"r":62,"c":12,"z":-2.9},{"r":63,"c":12,"z":1.1},{"r":64,"c":12,"z":-2.1},{"r":65,"c":12,"z":-1.6},{"r":66,"c":12,"z":-0.9},{"r":67,"c":12,"z":0.4},{"r":68,"c":12,"z":-0.6},{"r":69,"c":12,"z":-1.2},{"r":70,"c":12,"z":-1.6},{"r":71,"c":12,"z":-2},{"r":72,"c":12,"z":-1.1},{"r":73,"c":12,"z":1.4},{"r":74,"c":12,"z":-1.1},{"r":75,"c":12,"z":-0.3},{"r":76,"c":12,"z":0.9},{"r":77,"c":12,"z":3.6},{"r":78,"c":12,"z":2.9},
{"r":1,"c":13,"z":-1.9},{"r":2,"c":13,"z":4},{"r":3,"c":13,"z":1.5},{"r":4,"c":13,"z":3},{"r":5,"c":13,"z":3.6},{"r":6,"c":13,"z":-0.3},{"r":7,"c":13,"z":4},{"r":8,"c":13,"z":-4},{"r":9,"c":13,"z":-1.2},{"r":10,"c":13,"z":-0.2},{"r":11,"c":13,"z":0},{"r":12,"c":13,"z":-0.7},{"r":13,"c":13,"z":-1.6},{"r":14,"c":13,"z":-1.6},{"r":15,"c":13,"z":-1.6},{"r":16,"c":13,"z":-1.2},{"r":17,"c":13,"z":-1.9},{"r":18,"c":13,"z":-1.4},{"r":19,"c":13,"z":-3.2},{"r":20,"c":13,"z":-3.6},{"r":21,"c":13,"z":-2.3},{"r":22,"c":13,"z":-2.8},{"r":23,"c":13,"z":-4},{"r":24,"c":13,"z":-3.2},{"r":25,"c":13,"z":-4},{"r":26,"c":13,"z":-2.6},{"r":27,"c":13,"z":-1.5},{"r":28,"c":13,"z":-3.7},{"r":29,"c":13,"z":-3},{"r":30,"c":13,"z":-0.4},{"r":31,"c":13,"z":-2},{"r":32,"c":13,"z":-4},{"r":33,"c":13,"z":-2.8},{"r":34,"c":13,"z":1},{"r":35,"c":13,"z":-1.2},{"r":36,"c":13,"z":0},{"r":37,"c":13,"z":1.4},{"r":38,"c":13,"z":1.5},{"r":39,"c":13,"z":-0.7},{"r":40,"c":13,"z":-0.4},{"r":41,"c":13,"z":0},{"r":42,"c":13,"z":0.4},{"r":43,"c":13,"z":0.15},{"r":44,"c":13,"z":-1},{"r":45,"c":13,"z":-0.6},{"r":46,"c":13,"z":-0.5},{"r":47,"c":13,"z":0},{"r":48,"c":13,"z":0},{"r":49,"c":13,"z":3.6},{"r":50,"c":13,"z":1.1},{"r":51,"c":13,"z":-1.3},{"r":52,"c":13,"z":1.1},{"r":53,"c":13,"z":0.5},{"r":54,"c":13,"z":-0.7},{"r":55,"c":13,"z":1.2},{"r":56,"c":13,"z":-0.8},{"r":57,"c":13,"z":0.9},{"r":58,"c":13,"z":-0.1},{"r":59,"c":13,"z":-2.6},{"r":60,"c":13,"z":-2.6},{"r":61,"c":13,"z":-1.6},{"r":62,"c":13,"z":-0.7},{"r":63,"c":13,"z":-1.7},{"r":64,"c":13,"z":2},{"r":65,"c":13,"z":-2.2},{"r":66,"c":13,"z":-0.6},{"r":67,"c":13,"z":-0.5},{"r":68,"c":13,"z":-0.5},{"r":69,"c":13,"z":-0.5},{"r":70,"c":13,"z":-0.9},{"r":71,"c":13,"z":-1.7},{"r":72,"c":13,"z":-1.1},{"r":73,"c":13,"z":-0.7},{"r":74,"c":13,"z":-1.2},{"r":75,"c":13,"z":-0.9},{"r":76,"c":13,"z":1.7},{"r":77,"c":13,"z":2},{"r":78,"c":13,"z":-0.9},
{"r":1,"c":14,"z":-1.3},{"r":2,"c":14,"z":0},{"r":3,"c":14,"z":4},{"r":4,"c":14,"z":1.1},{"r":5,"c":14,"z":1.5},{"r":6,"c":14,"z":4},{"r":7,"c":14,"z":4},{"r":8,"c":14,"z":-4},{"r":9,"c":14,"z":-0.6},{"r":10,"c":14,"z":-0.8},{"r":11,"c":14,"z":2.5},{"r":12,"c":14,"z":-0.3},{"r":13,"c":14,"z":-1.6},{"r":14,"c":14,"z":-1.6},{"r":15,"c":14,"z":-1.6},{"r":16,"c":14,"z":-1.6},{"r":17,"c":14,"z":-2.1},{"r":18,"c":14,"z":-1.5},{"r":19,"c":14,"z":-3.5},{"r":20,"c":14,"z":-3.6},{"r":21,"c":14,"z":-2.3},{"r":22,"c":14,"z":-2.8},{"r":23,"c":14,"z":-4},{"r":24,"c":14,"z":-3.9},{"r":25,"c":14,"z":-2.1},{"r":26,"c":14,"z":1},{"r":27,"c":14,"z":-4},{"r":28,"c":14,"z":-3.5},{"r":29,"c":14,"z":-4},{"r":30,"c":14,"z":-2.4},{"r":31,"c":14,"z":-2.4},{"r":32,"c":14,"z":-4},{"r":33,"c":14,"z":-3.9},{"r":34,"c":14,"z":-0.8},{"r":35,"c":14,"z":-1.2},{"r":36,"c":14,"z":-1.2},{"r":37,"c":14,"z":-1.2},{"r":38,"c":14,"z":-0.5},{"r":39,"c":14,"z":-0.8},{"r":40,"c":14,"z":-0.2},{"r":41,"c":14,"z":-0.3},{"r":42,"c":14,"z":0.3},{"r":43,"c":14,"z":0.5},{"r":44,"c":14,"z":-1.2},{"r":45,"c":14,"z":-1},{"r":46,"c":14,"z":-1.1},{"r":47,"c":14,"z":0.3},{"r":48,"c":14,"z":0.7},{"r":49,"c":14,"z":0.6},{"r":50,"c":14,"z":0.1},{"r":51,"c":14,"z":-1.1},{"r":52,"c":14,"z":-0.5},{"r":53,"c":14,"z":-2.2},{"r":54,"c":14,"z":-2.7},{"r":55,"c":14,"z":-1.4},{"r":56,"c":14,"z":-0.7},{"r":57,"c":14,"z":0.7},{"r":58,"c":14,"z":-0.9},{"r":59,"c":14,"z":0},{"r":60,"c":14,"z":-3.5},{"r":61,"c":14,"z":-0.2},{"r":62,"c":14,"z":-0.4},{"r":63,"c":14,"z":-1.9},{"r":64,"c":14,"z":-3},{"r":65,"c":14,"z":-2},{"r":66,"c":14,"z":-0.8},{"r":67,"c":14,"z":-1.1},{"r":68,"c":14,"z":-0.5},{"r":69,"c":14,"z":-1.6},{"r":70,"c":14,"z":-0.8},{"r":71,"c":14,"z":-1.2},{"r":72,"c":14,"z":-1},{"r":73,"c":14,"z":-1.3},{"r":74,"c":14,"z":-0.8},{"r":75,"c":14,"z":-1},{"r":76,"c":14,"z":-4},{"r":77,"c":14,"z":-2},{"r":78,"c":14,"z":-1},
{"r":1,"c":15,"z":4},{"r":2,"c":15,"z":4},{"r":3,"c":15,"z":4},{"r":4,"c":15,"z":4},{"r":5,"c":15,"z":4},{"r":6,"c":15,"z":4},{"r":7,"c":15,"z":4},{"r":8,"c":15,"z":-4},{"r":9,"c":15,"z":0.6},{"r":10,"c":15,"z":-1.4},{"r":11,"c":15,"z":-1.5},{"r":12,"c":15,"z":-1.5},{"r":13,"c":15,"z":1.1},{"r":14,"c":15,"z":-1},{"r":15,"c":15,"z":-1.4},{"r":16,"c":15,"z":-1},{"r":17,"c":15,"z":-1},{"r":18,"c":15,"z":0},{"r":19,"c":15,"z":-1.6},{"r":20,"c":15,"z":-2.2},{"r":21,"c":15,"z":-2.2},{"r":22,"c":15,"z":-2.8},{"r":23,"c":15,"z":-4},{"r":24,"c":15,"z":-4},{"r":25,"c":15,"z":-4},{"r":26,"c":15,"z":-4},{"r":27,"c":15,"z":-4},{"r":28,"c":15,"z":-4},{"r":29,"c":15,"z":-4},{"r":30,"c":15,"z":-4},{"r":31,"c":15,"z":-4},{"r":32,"c":15,"z":-4},{"r":33,"c":15,"z":-4},{"r":34,"c":15,"z":-2},{"r":35,"c":15,"z":-2.4},{"r":36,"c":15,"z":-2.4},{"r":37,"c":15,"z":-3.3},{"r":38,"c":15,"z":-3.2},{"r":39,"c":15,"z":-3},{"r":40,"c":15,"z":-2.6},{"r":41,"c":15,"z":-3.2},{"r":42,"c":15,"z":-2.8},{"r":43,"c":15,"z":-1.9},{"r":44,"c":15,"z":-2.1},{"r":45,"c":15,"z":-1.7},{"r":46,"c":15,"z":-2.4},{"r":47,"c":15,"z":-1.9},{"r":48,"c":15,"z":-2.4},{"r":49,"c":15,"z":-4},{"r":50,"c":15,"z":-4},{"r":51,"c":15,"z":-3.4},{"r":52,"c":15,"z":-4},{"r":53,"c":15,"z":-4},{"r":54,"c":15,"z":-4},{"r":55,"c":15,"z":-3.2},{"r":56,"c":15,"z":-4},{"r":57,"c":15,"z":-4},{"r":58,"c":15,"z":-4},{"r":59,"c":15,"z":-4},{"r":60,"c":15,"z":-4},{"r":61,"c":15,"z":-4},{"r":62,"c":15,"z":-4},{"r":63,"c":15,"z":-4},{"r":64,"c":15,"z":-4},{"r":65,"c":15,"z":-4},{"r":66,"c":15,"z":-4},{"r":67,"c":15,"z":-3.8},{"r":68,"c":15,"z":-4},{"r":69,"c":15,"z":-4},{"r":70,"c":15,"z":-3.3},{"r":71,"c":15,"z":-4},{"r":72,"c":15,"z":-2.8},{"r":73,"c":15,"z":-4},{"r":74,"c":15,"z":-4},{"r":75,"c":15,"z":-4},{"r":76,"c":15,"z":-4},{"r":77,"c":15,"z":-4},{"r":78,"c":15,"z":-4},
{"r":1,"c":16,"z":2.2},{"r":2,"c":16,"z":4},{"r":3,"c":16,"z":4},{"r":4,"c":16,"z":4},{"r":5,"c":16,"z":4},{"r":6,"c":16,"z":4},{"r":7,"c":16,"z":4},{"r":8,"c":16,"z":-2.8},{"r":9,"c":16,"z":-1.3},{"r":10,"c":16,"z":-2},{"r":11,"c":16,"z":-1.5},{"r":12,"c":16,"z":-1.4},{"r":13,"c":16,"z":-1.5},{"r":14,"c":16,"z":-1},{"r":15,"c":16,"z":-1.2},{"r":16,"c":16,"z":-1},{"r":17,"c":16,"z":-1},{"r":18,"c":16,"z":0.1},{"r":19,"c":16,"z":-2.3},{"r":20,"c":16,"z":-3.1},{"r":21,"c":16,"z":-2.2},{"r":22,"c":16,"z":-2.8},{"r":23,"c":16,"z":-4},{"r":24,"c":16,"z":-4},{"r":25,"c":16,"z":-4},{"r":26,"c":16,"z":-4},{"r":27,"c":16,"z":-4},{"r":28,"c":16,"z":-4},{"r":29,"c":16,"z":-4},{"r":30,"c":16,"z":-4},{"r":31,"c":16,"z":-4},{"r":32,"c":16,"z":-4},{"r":33,"c":16,"z":-4},{"r":34,"c":16,"z":-2},{"r":35,"c":16,"z":-2.4},{"r":36,"c":16,"z":-3},{"r":37,"c":16,"z":-3.7},{"r":38,"c":16,"z":-3.5},{"r":39,"c":16,"z":-3},{"r":40,"c":16,"z":-2.8},{"r":41,"c":16,"z":-3.2},{"r":42,"c":16,"z":-3.2},{"r":43,"c":16,"z":-2.3},{"r":44,"c":16,"z":-2.3},{"r":45,"c":16,"z":-2.3},{"r":46,"c":16,"z":-2.5},{"r":47,"c":16,"z":-2.2},{"r":48,"c":16,"z":-2.4},{"r":49,"c":16,"z":-4},{"r":50,"c":16,"z":-4},{"r":51,"c":16,"z":-4},{"r":52,"c":16,"z":-4},{"r":53,"c":16,"z":-4},{"r":54,"c":16,"z":-4},{"r":55,"c":16,"z":-3.8},{"r":56,"c":16,"z":-4},{"r":57,"c":16,"z":-4},{"r":58,"c":16,"z":-4},{"r":59,"c":16,"z":-4},{"r":60,"c":16,"z":-4},{"r":61,"c":16,"z":-4},{"r":62,"c":16,"z":-4},{"r":63,"c":16,"z":-4},{"r":64,"c":16,"z":-4},{"r":65,"c":16,"z":-4},{"r":66,"c":16,"z":-4},{"r":67,"c":16,"z":-3.8},{"r":68,"c":16,"z":-4},{"r":69,"c":16,"z":-4},{"r":70,"c":16,"z":-3.3},{"r":71,"c":16,"z":-3.9},{"r":72,"c":16,"z":-4},{"r":73,"c":16,"z":-4},{"r":74,"c":16,"z":-4},{"r":75,"c":16,"z":-4},{"r":76,"c":16,"z":-4},{"r":77,"c":16,"z":-4},{"r":78,"c":16,"z":-4},
{"r":1,"c":17,"z":-1.2},{"r":2,"c":17,"z":4},{"r":3,"c":17,"z":4},{"r":4,"c":17,"z":3},{"r":5,"c":17,"z":4},{"r":6,"c":17,"z":3.1},{"r":7,"c":17,"z":3.6},{"r":8,"c":17,"z":-4},{"r":9,"c":17,"z":0.5},{"r":10,"c":17,"z":0.6},{"r":11,"c":17,"z":0.5},{"r":12,"c":17,"z":-0.4},{"r":13,"c":17,"z":-1.4},{"r":14,"c":17,"z":-1.7},{"r":15,"c":17,"z":-1.7},{"r":16,"c":17,"z":-1.5},{"r":17,"c":17,"z":-2.3},{"r":18,"c":17,"z":-1.5},{"r":19,"c":17,"z":-3.3},{"r":20,"c":17,"z":-3.3},{"r":21,"c":17,"z":-1.8},{"r":22,"c":17,"z":-2.8},{"r":23,"c":17,"z":-4},{"r":24,"c":17,"z":-1.3},{"r":25,"c":17,"z":-3.2},{"r":26,"c":17,"z":-4},{"r":27,"c":17,"z":-4},{"r":28,"c":17,"z":-4},{"r":29,"c":17,"z":-1.8},{"r":30,"c":17,"z":-4},{"r":31,"c":17,"z":-4},{"r":32,"c":17,"z":-4},{"r":33,"c":17,"z":-4},{"r":34,"c":17,"z":-0.6},{"r":35,"c":17,"z":-0.6},{"r":36,"c":17,"z":-0.6},{"r":37,"c":17,"z":3},{"r":38,"c":17,"z":0.9},{"r":39,"c":17,"z":1},{"r":40,"c":17,"z":1},{"r":41,"c":17,"z":0.7},{"r":42,"c":17,"z":1.5},{"r":43,"c":17,"z":0.4},{"r":44,"c":17,"z":0.4},{"r":45,"c":17,"z":0.4},{"r":46,"c":17,"z":0.2},{"r":47,"c":17,"z":0.2},{"r":48,"c":17,"z":0.4},{"r":49,"c":17,"z":-1},{"r":50,"c":17,"z":0.3},{"r":51,"c":17,"z":-3.1},{"r":52,"c":17,"z":-0.3},{"r":53,"c":17,"z":-0.5},{"r":54,"c":17,"z":-1.3},{"r":55,"c":17,"z":0.3},{"r":56,"c":17,"z":-1.3},{"r":57,"c":17,"z":-0.6},{"r":58,"c":17,"z":1.1},{"r":59,"c":17,"z":0},{"r":60,"c":17,"z":-2.5},{"r":61,"c":17,"z":-2},{"r":62,"c":17,"z":-3},{"r":63,"c":17,"z":1.1},{"r":64,"c":17,"z":0.7},{"r":65,"c":17,"z":-0.7},{"r":66,"c":17,"z":0.6},{"r":67,"c":17,"z":-0.8},{"r":68,"c":17,"z":-0.8},{"r":69,"c":17,"z":-1.4},{"r":70,"c":17,"z":0},{"r":71,"c":17,"z":-0.7},{"r":72,"c":17,"z":0.2},{"r":73,"c":17,"z":-0.3},{"r":74,"c":17,"z":-0.3},{"r":75,"c":17,"z":0.4},{"r":76,"c":17,"z":4},{"r":77,"c":17,"z":-0.4},{"r":78,"c":17,"z":1},
{"r":1,"c":18,"z":-2.8},{"r":2,"c":18,"z":4},{"r":3,"c":18,"z":-0.8},{"r":4,"c":18,"z":0},{"r":5,"c":18,"z":1.4},{"r":6,"c":18,"z":4},{"r":7,"c":18,"z":4},{"r":8,"c":18,"z":-4},{"r":9,"c":18,"z":-2.1},{"r":10,"c":18,"z":-1.9},{"r":11,"c":18,"z":-1.1},{"r":12,"c":18,"z":-0.2},{"r":13,"c":18,"z":-1.4},{"r":14,"c":18,"z":-1.9},{"r":15,"c":18,"z":-1.2},{"r":16,"c":18,"z":-1.1},{"r":17,"c":18,"z":-2.4},{"r":18,"c":18,"z":-1.5},{"r":19,"c":18,"z":-3.3},{"r":20,"c":18,"z":-3.4},{"r":21,"c":18,"z":0},{"r":22,"c":18,"z":-2.8},{"r":23,"c":18,"z":-4},{"r":24,"c":18,"z":-3.4},{"r":25,"c":18,"z":-3.8},{"r":26,"c":18,"z":4},{"r":27,"c":18,"z":4},{"r":28,"c":18,"z":4},{"r":29,"c":18,"z":-0.5},{"r":30,"c":18,"z":1.4},{"r":31,"c":18,"z":0.9},{"r":32,"c":18,"z":1.5},{"r":33,"c":18,"z":0.5},{"r":34,"c":18,"z":-2},{"r":35,"c":18,"z":2},{"r":36,"c":18,"z":2},{"r":37,"c":18,"z":0},{"r":38,"c":18,"z":-3},{"r":39,"c":18,"z":-1.4},{"r":40,"c":18,"z":-2.2},{"r":41,"c":18,"z":-1.5},{"r":42,"c":18,"z":-1.2},{"r":43,"c":18,"z":1.6},{"r":44,"c":18,"z":-1.6},{"r":45,"c":18,"z":-1.4},{"r":46,"c":18,"z":-0.5},{"r":47,"c":18,"z":-0.5},{"r":48,"c":18,"z":-0.6},{"r":49,"c":18,"z":-4},{"r":50,"c":18,"z":1.7},{"r":51,"c":18,"z":-2.1},{"r":52,"c":18,"z":-0.8},{"r":53,"c":18,"z":1.1},{"r":54,"c":18,"z":0.8},{"r":55,"c":18,"z":1.9},{"r":56,"c":18,"z":1.2},{"r":57,"c":18,"z":1.6},{"r":58,"c":18,"z":2.7},{"r":59,"c":18,"z":-4},{"r":60,"c":18,"z":-4},{"r":61,"c":18,"z":-3.7},{"r":62,"c":18,"z":-4},{"r":63,"c":18,"z":-2.4},{"r":64,"c":18,"z":-1.2},{"r":65,"c":18,"z":-2.1},{"r":66,"c":18,"z":-2.4},{"r":67,"c":18,"z":1.1},{"r":68,"c":18,"z":-1.7},{"r":69,"c":18,"z":-1.2},{"r":70,"c":18,"z":-1.7},{"r":71,"c":18,"z":-1.9},{"r":72,"c":18,"z":-3.2},{"r":73,"c":18,"z":-2.4},{"r":74,"c":18,"z":-2.9},{"r":75,"c":18,"z":-2.9},{"r":76,"c":18,"z":4},{"r":77,"c":18,"z":2.7},{"r":78,"c":18,"z":3.9},
{"r":1,"c":19,"z":4},{"r":2,"c":19,"z":4},{"r":3,"c":19,"z":4},{"r":4,"c":19,"z":4},{"r":5,"c":19,"z":4},{"r":6,"c":19,"z":4},{"r":7,"c":19,"z":4},{"r":8,"c":19,"z":-4},{"r":9,"c":19,"z":-1},{"r":10,"c":19,"z":1.4},{"r":11,"c":19,"z":-1.4},{"r":12,"c":19,"z":-1.4},{"r":13,"c":19,"z":0.9},{"r":14,"c":19,"z":2.8},{"r":15,"c":19,"z":-0.9},{"r":16,"c":19,"z":0},{"r":17,"c":19,"z":0.8},{"r":18,"c":19,"z":-0.2},{"r":19,"c":19,"z":3.9},{"r":20,"c":19,"z":-2.3},{"r":21,"c":19,"z":-2.3},{"r":22,"c":19,"z":-2.8},{"r":23,"c":19,"z":-4},{"r":24,"c":19,"z":-4},{"r":25,"c":19,"z":-4},{"r":26,"c":19,"z":-4},{"r":27,"c":19,"z":-4},{"r":28,"c":19,"z":-4},{"r":29,"c":19,"z":-4},{"r":30,"c":19,"z":-4},{"r":31,"c":19,"z":-4},{"r":32,"c":19,"z":-4},{"r":33,"c":19,"z":-4},{"r":34,"c":19,"z":-2},{"r":35,"c":19,"z":-2.6},{"r":36,"c":19,"z":-2.6},{"r":37,"c":19,"z":-3},{"r":38,"c":19,"z":-3},{"r":39,"c":19,"z":-3},{"r":40,"c":19,"z":-2.8},{"r":41,"c":19,"z":-3.2},{"r":42,"c":19,"z":-3.2},{"r":43,"c":19,"z":-2.2},{"r":44,"c":19,"z":-2.2},{"r":45,"c":19,"z":-2.2},{"r":46,"c":19,"z":-2.5},{"r":47,"c":19,"z":-2.4},{"r":48,"c":19,"z":-2.4},{"r":49,"c":19,"z":-3.6},{"r":50,"c":19,"z":-4},{"r":51,"c":19,"z":-4},{"r":52,"c":19,"z":-4},{"r":53,"c":19,"z":-4},{"r":54,"c":19,"z":-4},{"r":55,"c":19,"z":-3.8},{"r":56,"c":19,"z":-4},{"r":57,"c":19,"z":-4},{"r":58,"c":19,"z":-4},{"r":59,"c":19,"z":-4},{"r":60,"c":19,"z":-4},{"r":61,"c":19,"z":-4},{"r":62,"c":19,"z":-4},{"r":63,"c":19,"z":-4},{"r":64,"c":19,"z":-4},{"r":65,"c":19,"z":-4},{"r":66,"c":19,"z":-4},{"r":67,"c":19,"z":-3.8},{"r":68,"c":19,"z":-4},{"r":69,"c":19,"z":-4},{"r":70,"c":19,"z":-3.6},{"r":71,"c":19,"z":-3.1},{"r":72,"c":19,"z":-3},{"r":73,"c":19,"z":-4},{"r":74,"c":19,"z":-4},{"r":75,"c":19,"z":-4},{"r":76,"c":19,"z":-4},{"r":77,"c":19,"z":-4},{"r":78,"c":19,"z":-4},
{"r":1,"c":20,"z":-2.8},{"r":2,"c":20,"z":4},{"r":3,"c":20,"z":1.5},{"r":4,"c":20,"z":0},{"r":5,"c":20,"z":1.4},{"r":6,"c":20,"z":1},{"r":7,"c":20,"z":4},{"r":8,"c":20,"z":-4},{"r":9,"c":20,"z":-2},{"r":10,"c":20,"z":-1.9},{"r":11,"c":20,"z":-1.3},{"r":12,"c":20,"z":-1.1},{"r":13,"c":20,"z":-1.2},{"r":14,"c":20,"z":-1.8},{"r":15,"c":20,"z":-1.4},{"r":16,"c":20,"z":-1.6},{"r":17,"c":20,"z":-2.4},{"r":18,"c":20,"z":-1.4},{"r":19,"c":20,"z":-3.7},{"r":20,"c":20,"z":-3.6},{"r":21,"c":20,"z":-2.3},{"r":22,"c":20,"z":-2.8},{"r":23,"c":20,"z":-4},{"r":24,"c":20,"z":-4},{"r":25,"c":20,"z":-4},{"r":26,"c":20,"z":4},{"r":27,"c":20,"z":4},{"r":28,"c":20,"z":-0.6},{"r":29,"c":20,"z":3.6},{"r":30,"c":20,"z":4},{"r":31,"c":20,"z":4},{"r":32,"c":20,"z":4},{"r":33,"c":20,"z":3.9},{"r":34,"c":20,"z":-2},{"r":35,"c":20,"z":1.5},{"r":36,"c":20,"z":2},{"r":37,"c":20,"z":-0.9},{"r":38,"c":20,"z":-2.6},{"r":39,"c":20,"z":-1.3},{"r":40,"c":20,"z":-2},{"r":41,"c":20,"z":-2},{"r":42,"c":20,"z":-1.2},{"r":43,"c":20,"z":-0.5},{"r":44,"c":20,"z":-1.3},{"r":45,"c":20,"z":-1.2},{"r":46,"c":20,"z":-0.5},{"r":47,"c":20,"z":-0.3},{"r":48,"c":20,"z":-0.6},{"r":49,"c":20,"z":-3.2},{"r":50,"c":20,"z":-0.7},{"r":51,"c":20,"z":0.3},{"r":52,"c":20,"z":-1.3},{"r":53,"c":20,"z":1.2},{"r":54,"c":20,"z":-0.1},{"r":55,"c":20,"z":1.8},{"r":56,"c":20,"z":1.9},{"r":57,"c":20,"z":4},{"r":58,"c":20,"z":2.9},{"r":59,"c":20,"z":-3.4},{"r":60,"c":20,"z":-4},{"r":61,"c":20,"z":-3.2},{"r":62,"c":20,"z":-3.5},{"r":63,"c":20,"z":-1.4},{"r":64,"c":20,"z":0.1},{"r":65,"c":20,"z":-1.5},{"r":66,"c":20,"z":-2.2},{"r":67,"c":20,"z":-0.1},{"r":68,"c":20,"z":-1.9},{"r":69,"c":20,"z":-1.4},{"r":70,"c":20,"z":-2.4},{"r":71,"c":20,"z":-3},{"r":72,"c":20,"z":-2.9},{"r":73,"c":20,"z":-0.8},{"r":74,"c":20,"z":-2.6},{"r":75,"c":20,"z":-2.9},{"r":76,"c":20,"z":1},{"r":77,"c":20,"z":4},{"r":78,"c":20,"z":4},
{"r":1,"c":21,"z":1.3},{"r":2,"c":21,"z":4},{"r":3,"c":21,"z":4},{"r":4,"c":21,"z":4},{"r":5,"c":21,"z":4},{"r":6,"c":21,"z":4},{"r":7,"c":21,"z":4},{"r":8,"c":21,"z":-2.2},{"r":9,"c":21,"z":-1.5},{"r":10,"c":21,"z":-2},{"r":11,"c":21,"z":-1.6},{"r":12,"c":21,"z":-1.5},{"r":13,"c":21,"z":-1.5},{"r":14,"c":21,"z":-0.8},{"r":15,"c":21,"z":-1.2},{"r":16,"c":21,"z":-0.4},{"r":17,"c":21,"z":-0.1},{"r":18,"c":21,"z":2.7},{"r":19,"c":21,"z":-3.2},{"r":20,"c":21,"z":4},{"r":21,"c":21,"z":-2.3},{"r":22,"c":21,"z":-2.8},{"r":23,"c":21,"z":-4},{"r":24,"c":21,"z":-4},{"r":25,"c":21,"z":-4},{"r":26,"c":21,"z":-4},{"r":27,"c":21,"z":-4},{"r":28,"c":21,"z":-4},{"r":29,"c":21,"z":-4},{"r":30,"c":21,"z":-4},{"r":31,"c":21,"z":-4},{"r":32,"c":21,"z":-4},{"r":33,"c":21,"z":-4},{"r":34,"c":21,"z":-2},{"r":35,"c":21,"z":-2.6},{"r":36,"c":21,"z":-2.8},{"r":37,"c":21,"z":-3.7},{"r":38,"c":21,"z":-3.2},{"r":39,"c":21,"z":-2.9},{"r":40,"c":21,"z":-2.8},{"r":41,"c":21,"z":-3.1},{"r":42,"c":21,"z":-3.3},{"r":43,"c":21,"z":-2.4},{"r":44,"c":21,"z":-2.4},{"r":45,"c":21,"z":-2.4},{"r":46,"c":21,"z":-2.4},{"r":47,"c":21,"z":-2.2},{"r":48,"c":21,"z":-2.4},{"r":49,"c":21,"z":-4},{"r":50,"c":21,"z":-4},{"r":51,"c":21,"z":-4},{"r":52,"c":21,"z":-4},{"r":53,"c":21,"z":-4},{"r":54,"c":21,"z":-4},{"r":55,"c":21,"z":-4},{"r":56,"c":21,"z":-4},{"r":57,"c":21,"z":-4},{"r":58,"c":21,"z":-4},{"r":59,"c":21,"z":-4},{"r":60,"c":21,"z":-4},{"r":61,"c":21,"z":-4},{"r":62,"c":21,"z":-4},{"r":63,"c":21,"z":-4},{"r":64,"c":21,"z":-4},{"r":65,"c":21,"z":-4},{"r":66,"c":21,"z":-4},{"r":67,"c":21,"z":-3.9},{"r":68,"c":21,"z":-4},{"r":69,"c":21,"z":-4},{"r":70,"c":21,"z":-3.7},{"r":71,"c":21,"z":-4},{"r":72,"c":21,"z":-4},{"r":73,"c":21,"z":-4},{"r":74,"c":21,"z":-4},{"r":75,"c":21,"z":-4},{"r":76,"c":21,"z":-4},{"r":77,"c":21,"z":-4},{"r":78,"c":21,"z":-4}
],"right":[
{"r":1,"c":1,"z":1.5},{"r":2,"c":1,"z":4},{"r":3,"c":1,"z":4},{"r":4,"c":1,"z":4},{"r":5,"c":1,"z":4},{"r":6,"c":1,"z":4},{"r":7,"c":1,"z":2.7},{"r":8,"c":1,"z":-4},{"r":9,"c":1,"z":-1.2},{"r":10,"c":1,"z":-1.8},{"r":11,"c":1,"z":-1.5},{"r":12,"c":1,"z":-1.4},{"r":13,"c":1,"z":-1.4},{"r":14,"c":1,"z":-1},{"r":15,"c":1,"z":-0.5},{"r":16,"c":1,"z":-0.9},{"r":17,"c":1,"z":-1.5},{"r":18,"c":1,"z":0.1},{"r":19,"c":1,"z":-2.7},{"r":20,"c":1,"z":-2.6},{"r":21,"c":1,"z":-2.2},{"r":22,"c":1,"z":-2.8},{"r":23,"c":1,"z":-4},{"r":24,"c":1,"z":-4},{"r":25,"c":1,"z":-4},{"r":26,"c":1,"z":-4},{"r":27,"c":1,"z":-4},{"r":28,"c":1,"z":-4},{"r":29,"c":1,"z":-4},{"r":30,"c":1,"z":-4},{"r":31,"c":1,"z":-4},{"r":32,"c":1,"z":-4},{"r":33,"c":1,"z":-4},{"r":34,"c":1,"z":-2},{"r":35,"c":1,"z":-2.5},{"r":36,"c":1,"z":-3},{"r":37,"c":1,"z":-4},{"r":38,"c":1,"z":-3.2},{"r":39,"c":1,"z":-2.9},{"r":40,"c":1,"z":-3},{"r":41,"c":1,"z":-3.3},{"r":42,"c":1,"z":-3.3},{"r":43,"c":1,"z":-2.1},{"r":44,"c":1,"z":-2.5},{"r":45,"c":1,"z":-2.1},{"r":46,"c":1,"z":-2.5},{"r":47,"c":1,"z":-2.2},{"r":48,"c":1,"z":-2.3},{"r":49,"c":1,"z":-4},{"r":50,"c":1,"z":-4},{"r":51,"c":1,"z":-4},{"r":52,"c":1,"z":-4},{"r":53,"c":1,"z":-4},{"r":54,"c":1,"z":-4},{"r":55,"c":1,"z":-4},{"r":56,"c":1,"z":-4},{"r":57,"c":1,"z":-4},{"r":58,"c":1,"z":-4},{"r":59,"c":1,"z":-4},{"r":60,"c":1,"z":-4},{"r":61,"c":1,"z":-4},{"r":62,"c":1,"z":-4},{"r":63,"c":1,"z":-4},{"r":64,"c":1,"z":-4},{"r":65,"c":1,"z":-4},{"r":66,"c":1,"z":-3.9},{"r":67,"c":1,"z":-3.9},{"r":68,"c":1,"z":-4},{"r":69,"c":1,"z":-4},{"r":70,"c":1,"z":-3.5},{"r":71,"c":1,"z":-3.8},{"r":72,"c":1,"z":-4},{"r":73,"c":1,"z":-4},{"r":74,"c":1,"z":-4},{"r":75,"c":1,"z":-4},{"r":76,"c":1,"z":-4},{"r":77,"c":1,"z":-4},{"r":78,"c":1,"z":-4},
{"r":1,"c":2,"z":2},{"r":2,"c":2,"z":4},{"r":3,"c":2,"z":4},{"r":4,"c":2,"z":4},{"r":5,"c":2,"z":4},{"r":6,"c":2,"z":4},{"r":7,"c":2,"z":4},{"r":8,"c":2,"z":-4},{"r":9,"c":2,"z":-1.8},{"r":10,"c":2,"z":-2},{"r":11,"c":2,"z":-1.5},{"r":12,"c":2,"z":-1.5},{"r":13,"c":2,"z":-0.7},{"r":14,"c":2,"z":-0.1},{"r":15,"c":2,"z":-0.9},{"r":16,"c":2,"z":-0.6},{"r":17,"c":2,"z":-0.2},{"r":18,"c":2,"z":4},{"r":19,"c":2,"z":-2.7},{"r":20,"c":2,"z":-3},{"r":21,"c":2,"z":-2.2},{"r":22,"c":2,"z":-2.8},{"r":23,"c":2,"z":-4},{"r":24,"c":2,"z":-3.8},{"r":25,"c":2,"z":-4},{"r":26,"c":2,"z":-4},{"r":27,"c":2,"z":-4},{"r":28,"c":2,"z":-4},{"r":29,"c":2,"z":-4},{"r":30,"c":2,"z":-4},{"r":31,"c":2,"z":-4},{"r":32,"c":2,"z":-4},{"r":33,"c":2,"z":-4},{"r":34,"c":2,"z":-2},{"r":35,"c":2,"z":-2.5},{"r":36,"c":2,"z":-3},{"r":37,"c":2,"z":-4},{"r":38,"c":2,"z":-3.4},{"r":39,"c":2,"z":-3},{"r":40,"c":2,"z":-3},{"r":41,"c":2,"z":-3.4},{"r":42,"c":2,"z":-3.4},{"r":43,"c":2,"z":-2.2},{"r":44,"c":2,"z":-2.2},{"r":45,"c":2,"z":-2.2},{"r":46,"c":2,"z":-2.5},{"r":47,"c":2,"z":-2.1},{"r":48,"c":2,"z":-2.2},{"r":49,"c":2,"z":-4},{"r":50,"c":2,"z":-4},{"r":51,"c":2,"z":-4},{"r":52,"c":2,"z":-4},{"r":53,"c":2,"z":-4},{"r":54,"c":2,"z":-4},{"r":55,"c":2,"z":-4},{"r":56,"c":2,"z":-4},{"r":57,"c":2,"z":-4},{"r":58,"c":2,"z":-4},{"r":59,"c":2,"z":-4},{"r":60,"c":2,"z":-4},{"r":61,"c":2,"z":-4},{"r":62,"c":2,"z":-4},{"r":63,"c":2,"z":-4},{"r":64,"c":2,"z":-4},{"r":65,"c":2,"z":-4},{"r":66,"c":2,"z":-3.9},{"r":67,"c":2,"z":-3.9},{"r":68,"c":2,"z":-4},{"r":69,"c":2,"z":-4},{"r":70,"c":2,"z":-3.5},{"r":71,"c":2,"z":-3.1},{"r":72,"c":2,"z":-4},{"r":73,"c":2,"z":-4},{"r":74,"c":2,"z":-4},{"r":75,"c":2,"z":-4},{"r":76,"c":2,"z":-4},{"r":77,"c":2,"z":-4},{"r":78,"c":2,"z":-4},
{"r":1,"c":3,"z":-0.9},{"r":2,"c":3,"z":1.2},{"r":3,"c":3,"z":4},{"r":4,"c":3,"z":4},{"r":5,"c":3,"z":3.6},{"r":6,"c":3,"z":3.1},{"r":7,"c":3,"z":4},{"r":8,"c":3,"z":-4},{"r":9,"c":3,"z":1.6},{"r":10,"c":3,"z":0.1},{"r":11,"c":3,"z":-0.9},{"r":12,"c":3,"z":-0.5},{"r":13,"c":3,"z":-1.5},{"r":14,"c":3,"z":-1.5},{"r":15,"c":3,"z":-1.5},{"r":16,"c":3,"z":-1.5},{"r":17,"c":3,"z":-2.2},{"r":18,"c":3,"z":-1.5},{"r":19,"c":3,"z":-3.1},{"r":20,"c":3,"z":-3.5},{"r":21,"c":3,"z":-1.9},{"r":22,"c":3,"z":-2.1},{"r":23,"c":3,"z":-4},{"r":24,"c":3,"z":1.3},{"r":25,"c":3,"z":-0.7},{"r":26,"c":3,"z":4},{"r":27,"c":3,"z":-4},{"r":28,"c":3,"z":-0.7},{"r":29,"c":3,"z":-4},{"r":30,"c":3,"z":-3},{"r":31,"c":3,"z":-3},{"r":32,"c":3,"z":-4},{"r":33,"c":3,"z":-4},{"r":34,"c":3,"z":0},{"r":35,"c":3,"z":0.9},{"r":36,"c":3,"z":-1.3},{"r":37,"c":3,"z":3},{"r":38,"c":3,"z":3},{"r":39,"c":3,"z":-0.3},{"r":40,"c":3,"z":0.5},{"r":41,"c":3,"z":0.1},{"r":42,"c":3,"z":1.3},{"r":43,"c":3,"z":1.3},{"r":44,"c":3,"z":0.8},{"r":45,"c":3,"z":0},{"r":46,"c":3,"z":1.9},{"r":47,"c":3,"z":1.4},{"r":48,"c":3,"z":2.4},{"r":49,"c":3,"z":-2.1},{"r":50,"c":3,"z":3.6},{"r":51,"c":3,"z":-0.8},{"r":52,"c":3,"z":0.6},{"r":53,"c":3,"z":-1.5},{"r":54,"c":3,"z":-1.5},{"r":55,"c":3,"z":0.3},{"r":56,"c":3,"z":1.4},{"r":57,"c":3,"z":1.4},{"r":58,"c":3,"z":0.9},{"r":59,"c":3,"z":3.5},{"r":60,"c":3,"z":-0.2},{"r":61,"c":3,"z":1.4},{"r":62,"c":3,"z":-0.1},{"r":63,"c":3,"z":-3.4},{"r":64,"c":3,"z":-1},{"r":65,"c":3,"z":-1.4},{"r":66,"c":3,"z":1.2},{"r":67,"c":3,"z":-0.9},{"r":68,"c":3,"z":0},{"r":69,"c":3,"z":-1.5},{"r":70,"c":3,"z":-0.3},{"r":71,"c":3,"z":-0.3},{"r":72,"c":3,"z":1.1},{"r":73,"c":3,"z":0.8},{"r":74,"c":3,"z":0.8},{"r":75,"c":3,"z":1.1},{"r":76,"c":3,"z":4},{"r":77,"c":3,"z":-1.1},{"r":78,"c":3,"z":3.9},
{"r":1,"c":4,"z":0.8},{"r":2,"c":4,"z":4},{"r":3,"c":4,"z":4},{"r":4,"c":4,"z":4},{"r":5,"c":4,"z":4},{"r":6,"c":4,"z":4},{"r":7,"c":4,"z":4},{"r":8,"c":4,"z":1},{"r":9,"c":4,"z":-1.8},{"r":10,"c":4,"z":-2},{"r":11,"c":4,"z":-1.6},{"r":12,"c":4,"z":-1.5},{"r":13,"c":4,"z":-1.5},{"r":14,"c":4,"z":-0.5},{"r":15,"c":4,"z":-0.8},{"r":16,"c":4,"z":-0.4},{"r":17,"c":4,"z":1.8},{"r":18,"c":4,"z":0},{"r":19,"c":4,"z":-2.6},{"r":20,"c":4,"z":-2.3},{"r":21,"c":4,"z":-2.2},{"r":22,"c":4,"z":-3},{"r":23,"c":4,"z":-4},{"r":24,"c":4,"z":-4},{"r":25,"c":4,"z":-4},{"r":26,"c":4,"z":-4},{"r":27,"c":4,"z":-4},{"r":28,"c":4,"z":-4},{"r":29,"c":4,"z":-4},{"r":30,"c":4,"z":-4},{"r":31,"c":4,"z":-4},{"r":32,"c":4,"z":-4},{"r":33,"c":4,"z":-4},{"r":34,"c":4,"z":-2},{"r":35,"c":4,"z":-2.6},{"r":36,"c":4,"z":-3},{"r":37,"c":4,"z":-3.2},{"r":38,"c":4,"z":-3},{"r":39,"c":4,"z":-3},{"r":40,"c":4,"z":-3},{"r":41,"c":4,"z":-3.3},{"r":42,"c":4,"z":-3.3},{"r":43,"c":4,"z":-2.2},{"r":44,"c":4,"z":-2.4},{"r":45,"c":4,"z":-2.3},{"r":46,"c":4,"z":-2.6},{"r":47,"c":4,"z":-2},{"r":48,"c":4,"z":-2.2},{"r":49,"c":4,"z":-4},{"r":50,"c":4,"z":-4},{"r":51,"c":4,"z":-4},{"r":52,"c":4,"z":-4},{"r":53,"c":4,"z":-4},{"r":54,"c":4,"z":-4},{"r":55,"c":4,"z":-4},{"r":56,"c":4,"z":-4},{"r":57,"c":4,"z":-4},{"r":58,"c":4,"z":-4},{"r":59,"c":4,"z":-4},{"r":60,"c":4,"z":-4},{"r":61,"c":4,"z":-4},{"r":62,"c":4,"z":-4},{"r":63,"c":4,"z":-4},{"r":64,"c":4,"z":-4},{"r":65,"c":4,"z":-4},{"r":66,"c":4,"z":-3.9},{"r":67,"c":4,"z":-3.9},{"r":68,"c":4,"z":-4},{"r":69,"c":4,"z":-4},{"r":70,"c":4,"z":-3.6},{"r":71,"c":4,"z":-3.8},{"r":72,"c":4,"z":-4},{"r":73,"c":4,"z":-4},{"r":74,"c":4,"z":-4},{"r":75,"c":4,"z":-4},{"r":76,"c":4,"z":-4},{"r":77,"c":4,"z":-4},{"r":78,"c":4,"z":-4},
{"r":1,"c":5,"z":-1.2},{"r":2,"c":5,"z":0},{"r":3,"c":5,"z":4},{"r":4,"c":5,"z":1},{"r":5,"c":5,"z":3.6},{"r":6,"c":5,"z":1.7},{"r":7,"c":5,"z":4},{"r":8,"c":5,"z":-4},{"r":9,"c":5,"z":-0.8},{"r":10,"c":5,"z":0.6},{"r":11,"c":5,"z":2},{"r":12,"c":5,"z":-0.7},{"r":13,"c":5,"z":-1.5},{"r":14,"c":5,"z":-1},{"r":15,"c":5,"z":-1},{"r":16,"c":5,"z":-1.6},{"r":17,"c":5,"z":-1.9},{"r":18,"c":5,"z":-0.4},{"r":19,"c":5,"z":-2.2},{"r":20,"c":5,"z":-3.2},{"r":21,"c":5,"z":-2},{"r":22,"c":5,"z":-1.1},{"r":23,"c":5,"z":-3.5},{"r":24,"c":5,"z":-1.9},{"r":25,"c":5,"z":2.9},{"r":26,"c":5,"z":4},{"r":27,"c":5,"z":4},{"r":28,"c":5,"z":1.8},{"r":29,"c":5,"z":4},{"r":30,"c":5,"z":4},{"r":31,"c":5,"z":4},{"r":32,"c":5,"z":4},{"r":33,"c":5,"z":4},{"r":34,"c":5,"z":4},{"r":35,"c":5,"z":0.7},{"r":36,"c":5,"z":2.5},{"r":37,"c":5,"z":0.8},{"r":38,"c":5,"z":0.4},{"r":39,"c":5,"z":-0.3},{"r":40,"c":5,"z":1.2},{"r":41,"c":5,"z":1.2},{"r":42,"c":5,"z":0.8},{"r":43,"c":5,"z":-1.1},{"r":44,"c":5,"z":-0.7},{"r":45,"c":5,"z":0},{"r":46,"c":5,"z":2.6},{"r":47,"c":5,"z":1.1},{"r":48,"c":5,"z":1.3},{"r":49,"c":5,"z":4},{"r":50,"c":5,"z":3.2},{"r":51,"c":5,"z":4},{"r":52,"c":5,"z":4},{"r":53,"c":5,"z":4},{"r":54,"c":5,"z":4},{"r":55,"c":5,"z":4},{"r":56,"c":5,"z":1.5},{"r":57,"c":5,"z":4},{"r":58,"c":5,"z":4},{"r":59,"c":5,"z":1.2},{"r":60,"c":5,"z":4},{"r":61,"c":5,"z":1.6},{"r":62,"c":5,"z":2.5},{"r":63,"c":5,"z":-0.5},{"r":64,"c":5,"z":1},{"r":65,"c":5,"z":-1.6},{"r":66,"c":5,"z":4},{"r":67,"c":5,"z":0.9},{"r":68,"c":5,"z":-0.5},{"r":69,"c":5,"z":0.6},{"r":70,"c":5,"z":-0.5},{"r":71,"c":5,"z":-1},{"r":72,"c":5,"z":0.8},{"r":73,"c":5,"z":0},{"r":74,"c":5,"z":-0.7},{"r":75,"c":5,"z":1.1},{"r":76,"c":5,"z":-3.2},{"r":77,"c":5,"z":0.8},{"r":78,"c":5,"z":1.8},
{"r":1,"c":6,"z":4},{"r":2,"c":6,"z":4},{"r":3,"c":6,"z":4},{"r":4,"c":6,"z":4},{"r":5,"c":6,"z":4},{"r":6,"c":6,"z":4},{"r":7,"c":6,"z":4},{"r":8,"c":6,"z":4},{"r":9,"c":6,"z":0.3},{"r":10,"c":6,"z":-1.7},{"r":11,"c":6,"z":-1.6},{"r":12,"c":6,"z":-1.3},{"r":13,"c":6,"z":-1.3},{"r":14,"c":6,"z":-0.5},{"r":15,"c":6,"z":-1.5},{"r":16,"c":6,"z":-1.2},{"r":17,"c":6,"z":2},{"r":18,"c":6,"z":-0.8},{"r":19,"c":6,"z":-3.2},{"r":20,"c":6,"z":-3.1},{"r":21,"c":6,"z":-2.2},{"r":22,"c":6,"z":-2.8},{"r":23,"c":6,"z":-4},{"r":24,"c":6,"z":-4},{"r":25,"c":6,"z":-4},{"r":26,"c":6,"z":-4},{"r":27,"c":6,"z":-4},{"r":28,"c":6,"z":-4},{"r":29,"c":6,"z":-4},{"r":30,"c":6,"z":-4},{"r":31,"c":6,"z":-4},{"r":32,"c":6,"z":-4},{"r":33,"c":6,"z":-4},{"r":34,"c":6,"z":-2},{"r":35,"c":6,"z":-2.6},{"r":36,"c":6,"z":-2.7},{"r":37,"c":6,"z":-3.8},{"r":38,"c":6,"z":-2.8},{"r":39,"c":6,"z":-3},{"r":40,"c":6,"z":-2.7},{"r":41,"c":6,"z":-3.2},{"r":42,"c":6,"z":-3.2},{"r":43,"c":6,"z":-1.4},{"r":44,"c":6,"z":-2.1},{"r":45,"c":6,"z":-2},{"r":46,"c":6,"z":-2.3},{"r":47,"c":6,"z":-2.2},{"r":48,"c":6,"z":-2.2},{"r":49,"c":6,"z":-4},{"r":50,"c":6,"z":-4},{"r":51,"c":6,"z":-4},{"r":52,"c":6,"z":-4},{"r":53,"c":6,"z":-4},{"r":54,"c":6,"z":-4},{"r":55,"c":6,"z":-3.8},{"r":56,"c":6,"z":-4},{"r":57,"c":6,"z":-4},{"r":58,"c":6,"z":-4},{"r":59,"c":6,"z":-4},{"r":60,"c":6,"z":-4},{"r":61,"c":6,"z":-4},{"r":62,"c":6,"z":-4},{"r":63,"c":6,"z":-4},{"r":64,"c":6,"z":-4},{"r":65,"c":6,"z":-4},{"r":66,"c":6,"z":-4},{"r":67,"c":6,"z":-3.8},{"r":68,"c":6,"z":-4},{"r":69,"c":6,"z":-4},{"r":70,"c":6,"z":-3.4},{"r":71,"c":6,"z":-3.2},{"r":72,"c":6,"z":-4},{"r":73,"c":6,"z":-4},{"r":74,"c":6,"z":-4},{"r":75,"c":6,"z":-4},{"r":76,"c":6,"z":-4},{"r":77,"c":6,"z":-4},{"r":78,"c":6,"z":-4},
{"r":1,"c":7,"z":-1.6},{"r":2,"c":7,"z":1},{"r":3,"c":7,"z":3.6},{"r":4,"c":7,"z":3},{"r":5,"c":7,"z":4},{"r":6,"c":7,"z":-0.8},{"r":7,"c":7,"z":2.5},{"r":8,"c":7,"z":-4},{"r":9,"c":7,"z":-0.4},{"r":10,"c":7,"z":0.6},{"r":11,"c":7,"z":0.3},{"r":12,"c":7,"z":-1.2},{"r":13,"c":7,"z":-1.5},{"r":14,"c":7,"z":-1.6},{"r":15,"c":7,"z":-1.5},{"r":16,"c":7,"z":-1.5},{"r":17,"c":7,"z":-1.9},{"r":18,"c":7,"z":-1.7},{"r":19,"c":7,"z":-3.3},{"r":20,"c":7,"z":-3.1},{"r":21,"c":7,"z":-1.2},{"r":22,"c":7,"z":-2.7},{"r":23,"c":7,"z":-4},{"r":24,"c":7,"z":-4},{"r":25,"c":7,"z":-4},{"r":26,"c":7,"z":4},{"r":27,"c":7,"z":4},{"r":28,"c":7,"z":1},{"r":29,"c":7,"z":3.5},{"r":30,"c":7,"z":3.6},{"r":31,"c":7,"z":4},{"r":32,"c":7,"z":4},{"r":33,"c":7,"z":4},{"r":34,"c":7,"z":0.8},{"r":35,"c":7,"z":-1.2},{"r":36,"c":7,"z":-0.4},{"r":37,"c":7,"z":-1},{"r":38,"c":7,"z":3.9},{"r":39,"c":7,"z":0.1},{"r":40,"c":7,"z":0.6},{"r":41,"c":7,"z":2.5},{"r":42,"c":7,"z":0.5},{"r":43,"c":7,"z":1.8},{"r":44,"c":7,"z":-0.8},{"r":45,"c":7,"z":0},{"r":46,"c":7,"z":0.6},{"r":47,"c":7,"z":0.4},{"r":48,"c":7,"z":1.5},{"r":49,"c":7,"z":1.5},{"r":50,"c":7,"z":4},{"r":51,"c":7,"z":4},{"r":52,"c":7,"z":3.2},{"r":53,"c":7,"z":4},{"r":54,"c":7,"z":3},{"r":55,"c":7,"z":0},{"r":56,"c":7,"z":3.2},{"r":57,"c":7,"z":4},{"r":58,"c":7,"z":4},{"r":59,"c":7,"z":4},{"r":60,"c":7,"z":4},{"r":61,"c":7,"z":4},{"r":62,"c":7,"z":3.2},{"r":63,"c":7,"z":2},{"r":64,"c":7,"z":1.6},{"r":65,"c":7,"z":-1.3},{"r":66,"c":7,"z":0.2},{"r":67,"c":7,"z":0.05},{"r":68,"c":7,"z":2.2},{"r":69,"c":7,"z":0.9},{"r":70,"c":7,"z":0.5},{"r":71,"c":7,"z":-0.6},{"r":72,"c":7,"z":1.8},{"r":73,"c":7,"z":-0.8},{"r":74,"c":7,"z":0.2},{"r":75,"c":7,"z":-0.5},{"r":76,"c":7,"z":4},{"r":77,"c":7,"z":0},{"r":78,"c":7,"z":4},
{"r":1,"c":8,"z":2},{"r":2,"c":8,"z":4},{"r":3,"c":8,"z":4},{"r":4,"c":8,"z":4},{"r":5,"c":8,"z":4},{"r":6,"c":8,"z":4},{"r":7,"c":8,"z":4},{"r":8,"c":8,"z":-4},{"r":9,"c":8,"z":-1},{"r":10,"c":8,"z":-2.1},{"r":11,"c":8,"z":-1.4},{"r":12,"c":8,"z":-1.4},{"r":13,"c":8,"z":3},{"r":14,"c":8,"z":-0.9},{"r":15,"c":8,"z":-1.4},{"r":16,"c":8,"z":-1.4},{"r":17,"c":8,"z":-1.2},{"r":18,"c":8,"z":2},{"r":19,"c":8,"z":-3.1},{"r":20,"c":8,"z":-3.2},{"r":21,"c":8,"z":-2.3},{"r":22,"c":8,"z":-2.8},{"r":23,"c":8,"z":-4},{"r":24,"c":8,"z":-4},{"r":25,"c":8,"z":-4},{"r":26,"c":8,"z":-4},{"r":27,"c":8,"z":-4},{"r":28,"c":8,"z":-4},{"r":29,"c":8,"z":-4},{"r":30,"c":8,"z":-4},{"r":31,"c":8,"z":-4},{"r":32,"c":8,"z":-4},{"r":33,"c":8,"z":-4},{"r":34,"c":8,"z":-2},{"r":35,"c":8,"z":-2.6},{"r":36,"c":8,"z":-2.8},{"r":37,"c":8,"z":-2.9},{"r":38,"c":8,"z":-3},{"r":39,"c":8,"z":-2.9},{"r":40,"c":8,"z":-2.9},{"r":41,"c":8,"z":-3.2},{"r":42,"c":8,"z":-3.1},{"r":43,"c":8,"z":-2.2},{"r":44,"c":8,"z":-2.1},{"r":45,"c":8,"z":-2.1},{"r":46,"c":8,"z":-2.6},{"r":47,"c":8,"z":-2.1},{"r":48,"c":8,"z":-1.6},{"r":49,"c":8,"z":-4},{"r":50,"c":8,"z":-4},{"r":51,"c":8,"z":-4},{"r":52,"c":8,"z":-4},{"r":53,"c":8,"z":-4},{"r":54,"c":8,"z":-4},{"r":55,"c":8,"z":-3.6},{"r":56,"c":8,"z":-4},{"r":57,"c":8,"z":-4},{"r":58,"c":8,"z":-4},{"r":59,"c":8,"z":-4},{"r":60,"c":8,"z":-4},{"r":61,"c":8,"z":-4},{"r":62,"c":8,"z":-4},{"r":63,"c":8,"z":-4},{"r":64,"c":8,"z":-4},{"r":65,"c":8,"z":-4},{"r":66,"c":8,"z":-4},{"r":67,"c":8,"z":-4},{"r":68,"c":8,"z":-4},{"r":69,"c":8,"z":-4},{"r":70,"c":8,"z":-3.7},{"r":71,"c":8,"z":-4},{"r":72,"c":8,"z":-3.6},{"r":73,"c":8,"z":-4},{"r":74,"c":8,"z":-4},{"r":75,"c":8,"z":-4},{"r":76,"c":8,"z":-4},{"r":77,"c":8,"z":-4},{"r":78,"c":8,"z":-4},
{"r":1,"c":9,"z":3.6},{"r":2,"c":9,"z":4},{"r":3,"c":9,"z":4},{"r":4,"c":9,"z":4},{"r":5,"c":9,"z":4},{"r":6,"c":9,"z":4},{"r":7,"c":9,"z":4},{"r":8,"c":9,"z":-4},{"r":9,"c":9,"z":1},{"r":10,"c":9,"z":-2},{"r":11,"c":9,"z":-1.4},{"r":12,"c":9,"z":-1.4},{"r":13,"c":9,"z":-1.6},{"r":14,"c":9,"z":-1.5},{"r":15,"c":9,"z":-1.4},{"r":16,"c":9,"z":-1.3},{"r":17,"c":9,"z":-1.4},{"r":18,"c":9,"z":-1.3},{"r":19,"c":9,"z":-2},{"r":20,"c":9,"z":-3.5},{"r":21,"c":9,"z":-2.2},{"r":22,"c":9,"z":-2.8},{"r":23,"c":9,"z":-4},{"r":24,"c":9,"z":-4},{"r":25,"c":9,"z":-4},{"r":26,"c":9,"z":-4},{"r":27,"c":9,"z":-4},{"r":28,"c":9,"z":-4},{"r":29,"c":9,"z":-4},{"r":30,"c":9,"z":-4},{"r":31,"c":9,"z":-4},{"r":32,"c":9,"z":-4},{"r":33,"c":9,"z":-4},{"r":34,"c":9,"z":-2},{"r":35,"c":9,"z":-2.6},{"r":36,"c":9,"z":-2.5},{"r":37,"c":9,"z":-2.7},{"r":38,"c":9,"z":-3.2},{"r":39,"c":9,"z":-3.1},{"r":40,"c":9,"z":-3.2},{"r":41,"c":9,"z":-3.3},{"r":42,"c":9,"z":-3.1},{"r":43,"c":9,"z":-2.1},{"r":44,"c":9,"z":-2},{"r":45,"c":9,"z":-2},{"r":46,"c":9,"z":-2.4},{"r":47,"c":9,"z":-2},{"r":48,"c":9,"z":-2.2},{"r":49,"c":9,"z":-2.8},{"r":50,"c":9,"z":-4},{"r":51,"c":9,"z":-4},{"r":52,"c":9,"z":-4},{"r":53,"c":9,"z":-4},{"r":54,"c":9,"z":-4},{"r":55,"c":9,"z":-3.4},{"r":56,"c":9,"z":-4},{"r":57,"c":9,"z":-4},{"r":58,"c":9,"z":-4},{"r":59,"c":9,"z":-4},{"r":60,"c":9,"z":-4},{"r":61,"c":9,"z":-4},{"r":62,"c":9,"z":-4},{"r":63,"c":9,"z":-4},{"r":64,"c":9,"z":-4},{"r":65,"c":9,"z":-4},{"r":66,"c":9,"z":-4},{"r":67,"c":9,"z":-4},{"r":68,"c":9,"z":-4},{"r":69,"c":9,"z":-4},{"r":70,"c":9,"z":-3.7},{"r":71,"c":9,"z":-2.4},{"r":72,"c":9,"z":-4},{"r":73,"c":9,"z":-4},{"r":74,"c":9,"z":-4},{"r":75,"c":9,"z":-4},{"r":76,"c":9,"z":-4},{"r":77,"c":9,"z":-4},{"r":78,"c":9,"z":-4},
{"r":1,"c":10,"z":3.7},{"r":2,"c":10,"z":4},{"r":3,"c":10,"z":4},{"r":4,"c":10,"z":4},{"r":5,"c":10,"z":4},{"r":6,"c":10,"z":4},{"r":7,"c":10,"z":4},{"r":8,"c":10,"z":2.6},{"r":9,"c":10,"z":-0.8},{"r":10,"c":10,"z":-1.4},{"r":11,"c":10,"z":-1.5},{"r":12,"c":10,"z":-1.4},{"r":13,"c":10,"z":-1.3},{"r":14,"c":10,"z":-0.3},{"r":15,"c":10,"z":-0.7},{"r":16,"c":10,"z":0.5},{"r":17,"c":10,"z":4},{"r":18,"c":10,"z":0.1},{"r":19,"c":10,"z":-0.3},{"r":20,"c":10,"z":-2.1},{"r":21,"c":10,"z":-2.3},{"r":22,"c":10,"z":-2.8},{"r":23,"c":10,"z":-4},{"r":24,"c":10,"z":-4},{"r":25,"c":10,"z":-4},{"r":26,"c":10,"z":-4},{"r":27,"c":10,"z":-4},{"r":28,"c":10,"z":-4},{"r":29,"c":10,"z":-4},{"r":30,"c":10,"z":-4},{"r":31,"c":10,"z":-4},{"r":32,"c":10,"z":-4},{"r":33,"c":10,"z":-4},{"r":34,"c":10,"z":-2},{"r":35,"c":10,"z":-2.5},{"r":36,"c":10,"z":-2.5},{"r":37,"c":10,"z":-3.2},{"r":38,"c":10,"z":-3.3},{"r":39,"c":10,"z":-3.1},{"r":40,"c":10,"z":-3.1},{"r":41,"c":10,"z":-3.3},{"r":42,"c":10,"z":-3.3},{"r":43,"c":10,"z":-2.1},{"r":44,"c":10,"z":-2.2},{"r":45,"c":10,"z":-2.2},{"r":46,"c":10,"z":-2.6},{"r":47,"c":10,"z":-2.2},{"r":48,"c":10,"z":-2.5},{"r":49,"c":10,"z":-4},{"r":50,"c":10,"z":-4},{"r":51,"c":10,"z":-4},{"r":52,"c":10,"z":-4},{"r":53,"c":10,"z":-4},{"r":54,"c":10,"z":-4},{"r":55,"c":10,"z":-3.4},{"r":56,"c":10,"z":-4},{"r":57,"c":10,"z":-4},{"r":58,"c":10,"z":-4},{"r":59,"c":10,"z":-4},{"r":60,"c":10,"z":-4},{"r":61,"c":10,"z":-4},{"r":62,"c":10,"z":-4},{"r":63,"c":10,"z":-4},{"r":64,"c":10,"z":-4},{"r":65,"c":10,"z":-4},{"r":66,"c":10,"z":-4},{"r":67,"c":10,"z":-4},{"r":68,"c":10,"z":-4},{"r":69,"c":10,"z":-4},{"r":70,"c":10,"z":-3.7},{"r":71,"c":10,"z":-3.7},{"r":72,"c":10,"z":-4},{"r":73,"c":10,"z":-4},{"r":74,"c":10,"z":-4},{"r":75,"c":10,"z":-4},{"r":76,"c":10,"z":-4},{"r":77,"c":10,"z":-4},{"r":78,"c":10,"z":-4},
{"r":1,"c":11,"z":4},{"r":2,"c":11,"z":4},{"r":3,"c":11,"z":4},{"r":4,"c":11,"z":4},{"r":5,"c":11,"z":4},{"r":6,"c":11,"z":4},{"r":7,"c":11,"z":4},{"r":8,"c":11,"z":-4},{"r":9,"c":11,"z":0.1},{"r":10,"c":11,"z":-1.4},{"r":11,"c":11,"z":-1.4},{"r":12,"c":11,"z":-1.4},{"r":13,"c":11,"z":-1.5},{"r":14,"c":11,"z":-0.4},{"r":15,"c":11,"z":-1.1},{"r":16,"c":11,"z":-0.7},{"r":17,"c":11,"z":-1},{"r":18,"c":11,"z":0.3},{"r":19,"c":11,"z":-2.7},{"r":20,"c":11,"z":-2.4},{"r":21,"c":11,"z":-2.2},{"r":22,"c":11,"z":-2.8},{"r":23,"c":11,"z":-4},{"r":24,"c":11,"z":-4},{"r":25,"c":11,"z":-4},{"r":26,"c":11,"z":-4},{"r":27,"c":11,"z":-4},{"r":28,"c":11,"z":-4},{"r":29,"c":11,"z":-3.8},{"r":30,"c":11,"z":-4},{"r":31,"c":11,"z":-4},{"r":32,"c":11,"z":-4},{"r":33,"c":11,"z":-4},{"r":34,"c":11,"z":-1.9},{"r":35,"c":11,"z":-2.4},{"r":36,"c":11,"z":-2.6},{"r":37,"c":11,"z":-2.6},{"r":38,"c":11,"z":-3.1},{"r":39,"c":11,"z":-2.9},{"r":40,"c":11,"z":-2.6},{"r":41,"c":11,"z":-3.2},{"r":42,"c":11,"z":-3.1},{"r":43,"c":11,"z":-1.9},{"r":44,"c":11,"z":-2.1},{"r":45,"c":11,"z":-1.7},{"r":46,"c":11,"z":-2.3},{"r":47,"c":11,"z":-1.9},{"r":48,"c":11,"z":-2.4},{"r":49,"c":11,"z":-1.7},{"r":50,"c":11,"z":-4},{"r":51,"c":11,"z":-4},{"r":52,"c":11,"z":-4},{"r":53,"c":11,"z":-4},{"r":54,"c":11,"z":-4},{"r":55,"c":11,"z":-3.8},{"r":56,"c":11,"z":-4},{"r":57,"c":11,"z":-4},{"r":58,"c":11,"z":-4},{"r":59,"c":11,"z":-4},{"r":60,"c":11,"z":-4},{"r":61,"c":11,"z":-4},{"r":62,"c":11,"z":-4},{"r":63,"c":11,"z":-4},{"r":64,"c":11,"z":-4},{"r":65,"c":11,"z":-4},{"r":66,"c":11,"z":-4},{"r":67,"c":11,"z":-4},{"r":68,"c":11,"z":-4},{"r":69,"c":11,"z":-4},{"r":70,"c":11,"z":-3.2},{"r":71,"c":11,"z":-2.2},{"r":72,"c":11,"z":-3.8},{"r":73,"c":11,"z":-4},{"r":74,"c":11,"z":-4},{"r":75,"c":11,"z":-4},{"r":76,"c":11,"z":-4},{"r":77,"c":11,"z":-4},{"r":78,"c":11,"z":-4},
{"r":1,"c":12,"z":4},{"r":2,"c":12,"z":4},{"r":3,"c":12,"z":4},{"r":4,"c":12,"z":4},{"r":5,"c":12,"z":4},{"r":6,"c":12,"z":4},{"r":7,"c":12,"z":4},{"r":8,"c":12,"z":-4},{"r":9,"c":12,"z":-1.1},{"r":10,"c":12,"z":-1.7},{"r":11,"c":12,"z":-1.4},{"r":12,"c":12,"z":-1.4},{"r":13,"c":12,"z":-1.1},{"r":14,"c":12,"z":0.4},{"r":15,"c":12,"z":-0.5},{"r":16,"c":12,"z":0},{"r":17,"c":12,"z":-0.7},{"r":18,"c":12,"z":0.6},{"r":19,"c":12,"z":-2.9},{"r":20,"c":12,"z":-2.2},{"r":21,"c":12,"z":-2.1},{"r":22,"c":12,"z":-2.8},{"r":23,"c":12,"z":-4},{"r":24,"c":12,"z":-4},{"r":25,"c":12,"z":-4},{"r":26,"c":12,"z":-4},{"r":27,"c":12,"z":-4},{"r":28,"c":12,"z":-4},{"r":29,"c":12,"z":-4},{"r":30,"c":12,"z":-4},{"r":31,"c":12,"z":-4},{"r":32,"c":12,"z":-4},{"r":33,"c":12,"z":-4},{"r":34,"c":12,"z":-1.9},{"r":35,"c":12,"z":-2.4},{"r":36,"c":12,"z":-2.3},{"r":37,"c":12,"z":-2.1},{"r":38,"c":12,"z":-2.8},{"r":39,"c":12,"z":-3},{"r":40,"c":12,"z":-3.1},{"r":41,"c":12,"z":-3.2},{"r":42,"c":12,"z":-3.2},{"r":43,"c":12,"z":-1.8},{"r":44,"c":12,"z":-1.9},{"r":45,"c":12,"z":-1.8},{"r":46,"c":12,"z":-2.3},{"r":47,"c":12,"z":-2},{"r":48,"c":12,"z":-2.1},{"r":49,"c":12,"z":-2.8},{"r":50,"c":12,"z":-4},{"r":51,"c":12,"z":-4},{"r":52,"c":12,"z":-4},{"r":53,"c":12,"z":-4},{"r":54,"c":12,"z":-4},{"r":55,"c":12,"z":-3.8},{"r":56,"c":12,"z":-4},{"r":57,"c":12,"z":-4},{"r":58,"c":12,"z":-4},{"r":59,"c":12,"z":-4},{"r":60,"c":12,"z":-4},{"r":61,"c":12,"z":-4},{"r":62,"c":12,"z":-4},{"r":63,"c":12,"z":-4},{"r":64,"c":12,"z":-4},{"r":65,"c":12,"z":-4},{"r":66,"c":12,"z":-4},{"r":67,"c":12,"z":-4},{"r":68,"c":12,"z":-4},{"r":69,"c":12,"z":-4},{"r":70,"c":12,"z":-3.6},{"r":71,"c":12,"z":-3.9},{"r":72,"c":12,"z":-1.9},{"r":73,"c":12,"z":-4},{"r":74,"c":12,"z":-4},{"r":75,"c":12,"z":-4},{"r":76,"c":12,"z":-4},{"r":77,"c":12,"z":-4},{"r":78,"c":12,"z":-4},
{"r":1,"c":13,"z":-2},{"r":2,"c":13,"z":4},{"r":3,"c":13,"z":4},{"r":4,"c":13,"z":4},{"r":5,"c":13,"z":4},{"r":6,"c":13,"z":4},{"r":7,"c":13,"z":4},{"r":8,"c":13,"z":-4},{"r":9,"c":13,"z":-2.4},{"r":10,"c":13,"z":-2.4},{"r":11,"c":13,"z":-1.4},{"r":12,"c":13,"z":-1.5},{"r":13,"c":13,"z":-1.6},{"r":14,"c":13,"z":-1.6},{"r":15,"c":13,"z":-0.8},{"r":16,"c":13,"z":-1.4},{"r":17,"c":13,"z":-1.5},{"r":18,"c":13,"z":-1.2},{"r":19,"c":13,"z":-3.9},{"r":20,"c":13,"z":-3.8},{"r":21,"c":13,"z":-2.2},{"r":22,"c":13,"z":-2.8},{"r":23,"c":13,"z":-4},{"r":24,"c":13,"z":-4},{"r":25,"c":13,"z":-4},{"r":26,"c":13,"z":-4},{"r":27,"c":13,"z":-4},{"r":28,"c":13,"z":-4},{"r":29,"c":13,"z":-4},{"r":30,"c":13,"z":-4},{"r":31,"c":13,"z":-4},{"r":32,"c":13,"z":-4},{"r":33,"c":13,"z":-4},{"r":34,"c":13,"z":-2},{"r":35,"c":13,"z":-2.6},{"r":36,"c":13,"z":-3.1},{"r":37,"c":13,"z":-3.6},{"r":38,"c":13,"z":-3.5},{"r":39,"c":13,"z":-3.2},{"r":40,"c":13,"z":-3.3},{"r":41,"c":13,"z":-3.4},{"r":42,"c":13,"z":-3.4},{"r":43,"c":13,"z":-2.3},{"r":44,"c":13,"z":-3},{"r":45,"c":13,"z":-2.4},{"r":46,"c":13,"z":-2.6},{"r":47,"c":13,"z":-2.4},{"r":48,"c":13,"z":-2.3},{"r":49,"c":13,"z":-4},{"r":50,"c":13,"z":-4},{"r":51,"c":13,"z":-4},{"r":52,"c":13,"z":-4},{"r":53,"c":13,"z":-4},{"r":54,"c":13,"z":-4},{"r":55,"c":13,"z":-4},{"r":56,"c":13,"z":-4},{"r":57,"c":13,"z":-4},{"r":58,"c":13,"z":-4},{"r":59,"c":13,"z":-4},{"r":60,"c":13,"z":-4},{"r":61,"c":13,"z":-4},{"r":62,"c":13,"z":-4},{"r":63,"c":13,"z":-4},{"r":64,"c":13,"z":-4},{"r":65,"c":13,"z":-4},{"r":66,"c":13,"z":-4},{"r":67,"c":13,"z":-4},{"r":68,"c":13,"z":-4},{"r":69,"c":13,"z":-4},{"r":70,"c":13,"z":-3.8},{"r":71,"c":13,"z":-4},{"r":72,"c":13,"z":-4},{"r":73,"c":13,"z":-4},{"r":74,"c":13,"z":-4},{"r":75,"c":13,"z":-4},{"r":76,"c":13,"z":-4},{"r":77,"c":13,"z":-4},{"r":78,"c":13,"z":-4},
{"r":1,"c":14,"z":1.7},{"r":2,"c":14,"z":4},{"r":3,"c":14,"z":4},{"r":4,"c":14,"z":4},{"r":5,"c":14,"z":4},{"r":6,"c":14,"z":4},{"r":7,"c":14,"z":4},{"r":8,"c":14,"z":-4},{"r":9,"c":14,"z":-1},{"r":10,"c":14,"z":-2.3},{"r":11,"c":14,"z":-1.4},{"r":12,"c":14,"z":-1.5},{"r":13,"c":14,"z":-1.3},{"r":14,"c":14,"z":-1},{"r":15,"c":14,"z":1.4},{"r":16,"c":14,"z":-1.3},{"r":17,"c":14,"z":-1.7},{"r":18,"c":14,"z":-0.1},{"r":19,"c":14,"z":-0.4},{"r":20,"c":14,"z":-3.8},{"r":21,"c":14,"z":-2.2},{"r":22,"c":14,"z":-2.8},{"r":23,"c":14,"z":-4},{"r":24,"c":14,"z":-4},{"r":25,"c":14,"z":-4},{"r":26,"c":14,"z":-4},{"r":27,"c":14,"z":-4},{"r":28,"c":14,"z":-4},{"r":29,"c":14,"z":-4},{"r":30,"c":14,"z":-4},{"r":31,"c":14,"z":-4},{"r":32,"c":14,"z":-4},{"r":33,"c":14,"z":-4},{"r":34,"c":14,"z":-1.9},{"r":35,"c":14,"z":-2.4},{"r":36,"c":14,"z":-2.6},{"r":37,"c":14,"z":-2.8},{"r":38,"c":14,"z":-3.1},{"r":39,"c":14,"z":-3},{"r":40,"c":14,"z":-3},{"r":41,"c":14,"z":-3.3},{"r":42,"c":14,"z":-3.2},{"r":43,"c":14,"z":-2.1},{"r":44,"c":14,"z":-2},{"r":45,"c":14,"z":-2},{"r":46,"c":14,"z":-2.6},{"r":47,"c":14,"z":-1.9},{"r":48,"c":14,"z":-2.2},{"r":49,"c":14,"z":-4},{"r":50,"c":14,"z":-4},{"r":51,"c":14,"z":-4},{"r":52,"c":14,"z":-4},{"r":53,"c":14,"z":-4},{"r":54,"c":14,"z":-4},{"r":55,"c":14,"z":-4},{"r":56,"c":14,"z":-4},{"r":57,"c":14,"z":-4},{"r":58,"c":14,"z":-4},{"r":59,"c":14,"z":-4},{"r":60,"c":14,"z":-4},{"r":61,"c":14,"z":-4},{"r":62,"c":14,"z":-4},{"r":63,"c":14,"z":-4},{"r":64,"c":14,"z":-4},{"r":65,"c":14,"z":-4},{"r":66,"c":14,"z":-4},{"r":67,"c":14,"z":-4},{"r":68,"c":14,"z":-4},{"r":69,"c":14,"z":-4},{"r":70,"c":14,"z":-3.8},{"r":71,"c":14,"z":-4},{"r":72,"c":14,"z":-4},{"r":73,"c":14,"z":-4},{"r":74,"c":14,"z":-4},{"r":75,"c":14,"z":-4},{"r":76,"c":14,"z":-4},{"r":77,"c":14,"z":-4},{"r":78,"c":14,"z":-4},
{"r":1,"c":15,"z":4},{"r":2,"c":15,"z":4},{"r":3,"c":15,"z":4},{"r":4,"c":15,"z":4},{"r":5,"c":15,"z":4},{"r":6,"c":15,"z":4},{"r":7,"c":15,"z":4},{"r":8,"c":15,"z":4},{"r":9,"c":15,"z":0.2},{"r":10,"c":15,"z":-1.5},{"r":11,"c":15,"z":-1.5},{"r":12,"c":15,"z":-1.4},{"r":13,"c":15,"z":-1.6},{"r":14,"c":15,"z":0},{"r":15,"c":15,"z":-1.2},{"r":16,"c":15,"z":-1.1},{"r":17,"c":15,"z":0.9},{"r":18,"c":15,"z":-0.4},{"r":19,"c":15,"z":-0.3},{"r":20,"c":15,"z":-3.2},{"r":21,"c":15,"z":-2.2},{"r":22,"c":15,"z":-2.8},{"r":23,"c":15,"z":-4},{"r":24,"c":15,"z":-3.9},{"r":25,"c":15,"z":-4},{"r":26,"c":15,"z":-4},{"r":27,"c":15,"z":-4},{"r":28,"c":15,"z":-4},{"r":29,"c":15,"z":-4},{"r":30,"c":15,"z":-4},{"r":31,"c":15,"z":-4},{"r":32,"c":15,"z":-4},{"r":33,"c":15,"z":-4},{"r":34,"c":15,"z":-1.8},{"r":35,"c":15,"z":-2.3},{"r":36,"c":15,"z":-2.8},{"r":37,"c":15,"z":-2},{"r":38,"c":15,"z":-2.9},{"r":39,"c":15,"z":-2.8},{"r":40,"c":15,"z":-2.5},{"r":41,"c":15,"z":-3.2},{"r":42,"c":15,"z":-3.1},{"r":43,"c":15,"z":-1.9},{"r":44,"c":15,"z":-1.9},{"r":45,"c":15,"z":-1.9},{"r":46,"c":15,"z":-2.5},{"r":47,"c":15,"z":-2},{"r":48,"c":15,"z":-2.3},{"r":49,"c":15,"z":-3},{"r":50,"c":15,"z":-4},{"r":51,"c":15,"z":-4},{"r":52,"c":15,"z":-4},{"r":53,"c":15,"z":-4},{"r":54,"c":15,"z":-4},{"r":55,"c":15,"z":-3.4},{"r":56,"c":15,"z":-4},{"r":57,"c":15,"z":-4},{"r":58,"c":15,"z":-4},{"r":59,"c":15,"z":-4},{"r":60,"c":15,"z":-4},{"r":61,"c":15,"z":-4},{"r":62,"c":15,"z":-4},{"r":63,"c":15,"z":-4},{"r":64,"c":15,"z":-4},{"r":65,"c":15,"z":-4},{"r":66,"c":15,"z":-4},{"r":67,"c":15,"z":-4},{"r":68,"c":15,"z":-4},{"r":69,"c":15,"z":-4},{"r":70,"c":15,"z":-3.1},{"r":71,"c":15,"z":-3.2},{"r":72,"c":15,"z":-3.2},{"r":73,"c":15,"z":-4},{"r":74,"c":15,"z":-4},{"r":75,"c":15,"z":-4},{"r":76,"c":15,"z":-4},{"r":77,"c":15,"z":-4},{"r":78,"c":15,"z":-4}
],"pca":[{"group":"Group 1 PAH","pc1":-153.5,"pc2":8.7},{"group":"Group 1 PAH","pc1":-152,"pc2":4.8},{"group":"Group 1 PAH","pc1":-150.7,"pc2":0.4},{"group":"Group 1 PAH","pc1":-148.3,"pc2":-1},{"group":"Group 1 PAH","pc1":-149.7,"pc2":-2.6},{"group":"Group 1 PAH","pc1":-150,"pc2":-6.6},{"group":"Group 1 PAH","pc1":-151.6,"pc2":-10.5},{"group":"Group 1 PAH","pc1":-148,"pc2":-10.5},{"group":"Group 1 PAH","pc1":-143.6,"pc2":-7.5},{"group":"Group 1 PAH","pc1":-142.8,"pc2":-15},{"group":"Group 1 PAH","pc1":-22,"pc2":-4.6},{"group":"Group 1 PAH","pc1":14.8,"pc2":-27.4},{"group":"Group 1 PAH","pc1":27.4,"pc2":82.8},{"group":"Group 1 PAH","pc1":42.4,"pc2":-7.7},{"group":"Group 1 PAH","pc1":58,"pc2":-20.7},{"group":"Group 1 PAH","pc1":72.8,"pc2":-26.2},{"group":"Group 1 PAH","pc1":89.7,"pc2":-29.6},{"group":"Group 1 PAH","pc1":97.1,"pc2":-42.3},{"group":"Group 1 PAH","pc1":101.5,"pc2":-63},{"group":"Group 1 PAH","pc1":108.9,"pc2":-18},{"group":"Group 1 PAH","pc1":115.2,"pc2":-26.4},{"group":"Group 1 PAH","pc1":121.5,"pc2":-32},{"group":"Group 1 PAH","pc1":139.5,"pc2":122},{"group":"Group 1 PAH","pc1":162.8,"pc2":-3.2},{"group":"Group 2 PH","pc1":-69.8,"pc2":39.3},{"group":"Group 2 PH","pc1":-29.5,"pc2":-9},{"group":"Group 2 PH","pc1":-17,"pc2":4.8},{"group":"Group 2 PH","pc1":-147,"pc2":-10.3},{"group":"Group 2 PH","pc1":-138.4,"pc2":-17},{"group":"Group 2 PH","pc1":45.4,"pc2":-17},{"group":"Group 2 PH","pc1":48.7,"pc2":33.6},{"group":"Group 2 PH","pc1":68.7,"pc2":37},{"group":"Group 2 PH","pc1":105.6,"pc2":53},{"group":"Group 2 PH","pc1":102.6,"pc2":-25},{"group":"Group 2 PH","pc1":122.6,"pc2":-37.7},{"group":"Group 2 PH","pc1":92,"pc2":-55},{"group":"Group 2 PH","pc1":169,"pc2":-57},{"group":"Group 3 PH","pc1":-69.8,"pc2":22},{"group":"Group 3 PH","pc1":-51.7,"pc2":16.3},{"group":"Group 3 PH","pc1":32.8,"pc2":12.7},{"group":"Group 3 PH","pc1":50.6,"pc2":11.7},{"group":"Group 3 PH","pc1":76,"pc2":53.2},{"group":"Group 3 PH","pc1":122.6,"pc2":27.8},{"group":"Group 3 PH","pc1":137.3,"pc2":0.2},{"group":"Group 3 PH","pc1":69.8,"pc2":-38.9},{"group":"Group 4 PH","pc1":8.5,"pc2":46.3},{"group":"Group 5 PH","pc1":45.4,"pc2":164.6},{"group":"Group 5 PH","pc1":3,"pc2":-14.7},{"group":"Group 5 PH","pc1":55.8,"pc2":-17},{"group":"Group 5 PH","pc1":134,"pc2":-48}],"braces":[{"b":"CpcPH","k":1,"x":0.47,"y":9},{"b":"CpcPH","k":2,"x":0.5,"y":28},{"b":"CpcPH","k":3,"x":3.98,"y":28},{"b":"CpcPH","k":4,"x":4.05,"y":46},{"b":"CpcPH","k":5,"x":4.12,"y":28},{"b":"CpcPH","k":6,"x":7.57,"y":28},{"b":"CpcPH","k":7,"x":7.6,"y":9},{"b":"Group 3 PH","k":1,"x":8.37,"y":5},{"b":"Group 3 PH","k":2,"x":8.4,"y":24},{"b":"Group 3 PH","k":3,"x":10.17,"y":24},{"b":"Group 3 PH","k":4,"x":10.24,"y":44},{"b":"Group 3 PH","k":5,"x":10.31,"y":24},{"b":"Group 3 PH","k":6,"x":12.43,"y":24},{"b":"Group 3 PH","k":7,"x":12.46,"y":5}],"flat":[{"t":"CpcPH","x":4.14,"y":68},{"t":"Group 3 PH","x":10.6,"y":68}],"tilted":[{"t":"Group 4 PH","x":13,"y":64},{"t":"Group 5 PH","x":14.06,"y":64}]},"hconcat":[{"spacing":32,"bounds":"flush","vconcat":[{"width":1227,"height":705,"title":{"text":"Group 1 PAH","font":"Liberation Sans","fontSize":28.5,"fontWeight":"normal","color":"#111","offset":10,"dx":17},"data":{"name":"left"},"mark":{"type":"rect","strokeWidth":0.6},"encoding":{"x":{"field":"c","type":"ordinal","axis":null,"scale":{"domain":[1,2,3,4,5,6,7,8,9,10,11,12,13,14,15,16,17,18,19,20,21],"paddingInner":0,"paddingOuter":0}},"y":{"field":"r","type":"ordinal","scale":{"domain":[1,2,3,4,5,6,7,8,9,10,11,12,13,14,15,16,17,18,19,20,21,22,23,24,25,26,27,28,29,30,31,32,33,34,35,36,37,38,39,40,41,42,43,44,45,46,47,48,49,50,51,52,53,54,55,56,57,58,59,60,61,62,63,64,65,66,67,68,69,70,71,72,73,74,75,76,77,78],"paddingInner":0,"paddingOuter":0},"axis":{"title":null,"ticks":false,"domain":false,"labelFont":"DejaVu Sans","labelFontSize":17.5,"labelPadding":9,"labelColor":"#111","labelOverlap":false,"labelBound":false,"labelExpr":"['CD276','TRPM2','TVP23A','CFAP92','ANP32AP1','PPIEL','SNORA4','GALA4','RAB43','NUDT4B','TNFRSF6B','SULT1A3','ROBO2','RHOF','TMEM158','GALNT12','ITPKA','EPB41L4B','SCN4B','NCAM1','RFLNA','KLRK1','BMI1','GCOM1','SULT1A4','MIF','ATP5F1E','PAM16','MTHFS','HYPK','LBHD1','MRCBP','COX16','ADORA2A','NBL1','C18orf32','ACAD11','HN1','CIDEB','CTNND1','SCLY','PTOV1-AS1','PRCC5','NPEPL1','GPRASP2','INO80B','PPP1R1B','PTRHD1','SCHIP1','C17orf49','EMC6','PIGY','SCNM1','EMC1','BSCL2','RPS10','MRPS24','AARSD1','KTI12','TTC4','EIF4A1','U2AF1','TAX1BP3','TEN1','PLSCR3','SNX15','CHMP3','HNRNPH2','MOB4','FNTB','GALNT4','SENP3','RAB4B','CSNK1E','EGLN2','AP3S2','RNASEK','ACY1'][datum.value-1]"}},"color":{"field":"z","type":"quantitative","legend":null,"scale":{"domain":[-4,0,4],"range":["#0000ff","#ffffff","#ff0000"],"interpolate":"rgb"}},"stroke":{"field":"z","type":"quantitative","legend":null,"scale":{"domain":[-4.001,0,4.001],"range":["#0000ff","#ffffff","#ff0000"],"interpolate":"rgb"}}}},{"width":748,"height":483,"view":{"stroke":null},"title":{"text":"B.","anchor":"start","font":"Liberation Sans","fontSize":40,"fontWeight":"bold","color":"black","orient":"top","dx":-30,"dy":53,"offset":0},"data":{"name":"pca"},"layer":[{"mark":{"type":"rect","fill":null,"stroke":"#222","strokeWidth":2},"encoding":{"x":{"datum":-169,"type":"quantitative"},"x2":{"datum":185},"y":{"datum":-74.5,"type":"quantitative"},"y2":{"datum":176.6}}},{"mark":{"type":"circle","size":190,"opacity":0.85},"encoding":{"x":{"field":"pc1","type":"quantitative","scale":{"domain":[-169,185],"range":[5,748],"nice":false,"zero":false},"axis":{"title":"Principal Component 1","titleFont":"Liberation Sans","titleFontSize":28.3,"titleFontWeight":"normal","titleColor":"#111","titlePadding":36,"grid":false,"domain":false,"tickColor":"#222","tickSize":6,"labelFont":"DejaVu Sans","labelFontSize":20,"labelColor":"#222","values":[-150,-100,-50,0,50,100,150],"labelExpr":"replace(datum.label,'-','−')","labelFlush":false}},"y":{"field":"pc2","type":"quantitative","scale":{"domain":[-74.5,176.6],"nice":false,"zero":false},"axis":{"title":"Principal Component 2","titleFont":"Liberation Sans","titleFontSize":28.3,"titleFontWeight":"normal","titleColor":"#111","titlePadding":21,"grid":false,"domain":false,"offset":-5,"tickColor":"#222","tickSize":6,"labelFont":"DejaVu Sans","labelFontSize":20,"labelColor":"#222","values":[-50,0,50,100,150],"labelExpr":"replace(datum.label,'-','−')","labelFlush":false}},"color":{"field":"group","type":"nominal","scale":{"domain":["Group 1 PAH","Group 2 PH","Group 3 PH","Group 4 PH","Group 5 PH"],"range":["#1f77b4","#e377c2","#dda0dd","#2e8b57","#fa8072"]},"legend":{"title":null,"orient":"none","legendX":782,"legendY":150,"labelFont":"DejaVu Sans","labelFontSize":22,"labelColor":"#333","symbolType":"circle","symbolSize":190,"symbolOpacity":0.85,"symbolOffset":14,"rowPadding":10.3,"labelOffset":26,"padding":7,"strokeColor":"#ccc","fillColor":"white","cornerRadius":4,"symbolStrokeWidth":0}}}}]}]},{"spacing":0,"bounds":"flush","vconcat":[{"width":876,"height":705,"title":{"text":"Pre-capillary Group 2 – 5 PH","font":"Liberation Sans","fontSize":28.5,"fontWeight":"normal","color":"#111","offset":15},"data":{"name":"right"},"mark":{"type":"rect","strokeWidth":0.6},"encoding":{"x":{"field":"c","type":"ordinal","axis":null,"scale":{"domain":[1,2,3,4,5,6,7,8,9,10,11,12,13,14,15],"paddingInner":0,"paddingOuter":0}},"y":{"field":"r","type":"ordinal","scale":{"domain":[1,2,3,4,5,6,7,8,9,10,11,12,13,14,15,16,17,18,19,20,21,22,23,24,25,26,27,28,29,30,31,32,33,34,35,36,37,38,39,40,41,42,43,44,45,46,47,48,49,50,51,52,53,54,55,56,57,58,59,60,61,62,63,64,65,66,67,68,69,70,71,72,73,74,75,76,77,78],"paddingInner":0,"paddingOuter":0},"axis":{"orient":"right","title":"Z-score","titleFont":"DejaVu Sans","titleFontSize":17,"titleFontWeight":"normal","titleColor":"#222","titleAngle":90,"titleX":87,"titleY":353,"labels":false,"ticks":false,"domain":false}},"color":{"field":"z","type":"quantitative","scale":{"domain":[-4,0,4],"range":["#0000ff","#ffffff","#ff0000"],"interpolate":"rgb"},"legend":{"title":null,"orient":"none","legendX":2130,"legendY":92,"type":"gradient","gradientLength":525,"gradientThickness":28,"gradientStrokeColor":"#111","gradientStrokeWidth":1,"values":[-4,-3,-2,-1,0,1,2,3,4],"labelFont":"DejaVu Sans","labelFontSize":18,"labelColor":"#222","labelOffset":12,"labelExpr":"replace(datum.label,'-','−')"}},"stroke":{"field":"z","type":"quantitative","legend":null,"scale":{"domain":[-4.001,0,4.001],"range":["#0000ff","#ffffff","#ff0000"],"interpolate":"rgb"}}}},{"width":876,"height":140,"view":{"stroke":null},"layer":[{"data":{"name":"braces"},"mark":{"type":"line","color":"#111","strokeWidth":2,"interpolate":"linear"},"encoding":{"x":{"field":"x","type":"quantitative","axis":null,"scale":{"domain":[0,15],"nice":false,"zero":false}},"y":{"field":"y","type":"quantitative","axis":null,"scale":{"domain":[140,0],"nice":false,"zero":false}},"detail":{"field":"b"},"order":{"field":"k"}}},{"data":{"name":"flat"},"mark":{"type":"text","font":"Liberation Sans","fontSize":28.5,"fontWeight":"bold","color":"black"},"encoding":{"x":{"field":"x","type":"quantitative"},"y":{"field":"y","type":"quantitative"},"text":{"field":"t"}}},{"data":{"name":"tilted"},"mark":{"type":"text","font":"Liberation Sans","fontSize":26,"fontWeight":"bold","color":"black","angle":310},"encoding":{"x":{"field":"x","type":"quantitative"},"y":{"field":"y","type":"quantitative"},"text":{"field":"t"}}}]}]}],"spacing":8}
